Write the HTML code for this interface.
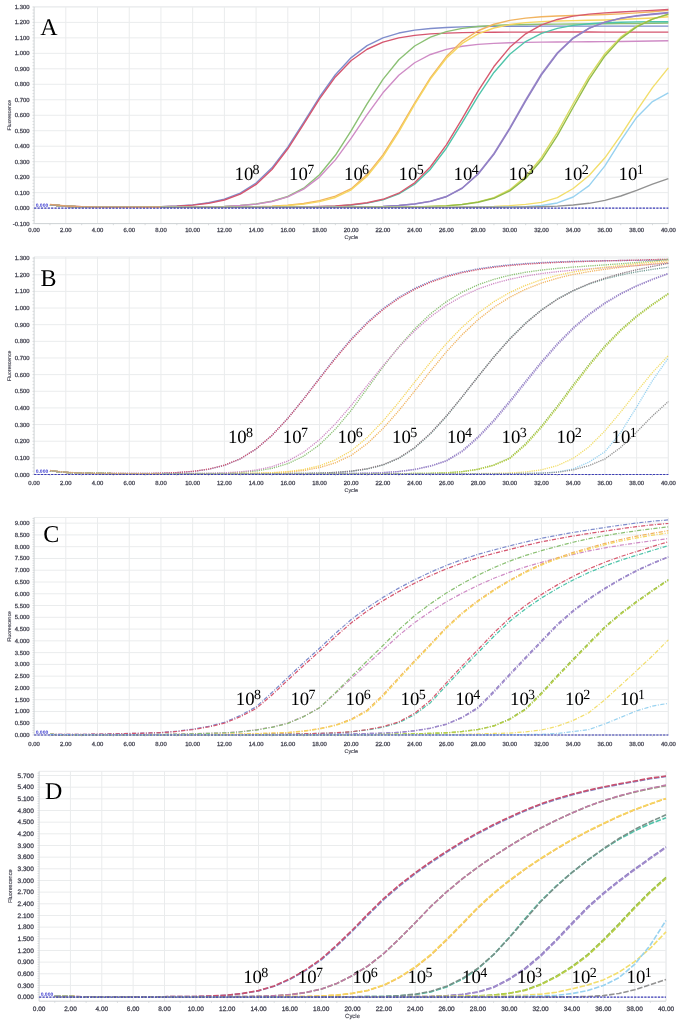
<!DOCTYPE html><html><head><meta charset="utf-8"><style>html,body{margin:0;padding:0;background:#fff;width:685px;height:1025px;overflow:hidden}svg{display:block;text-rendering:geometricPrecision;filter:blur(0.3px)}</style></head><body>
<svg width="685" height="1025" viewBox="0 0 685 1025">
<rect x="0" y="0" width="685" height="1025" fill="#fff"/>
<g id="A"><line x1="65.81" y1="6.90" x2="65.81" y2="223.60" stroke="#eaeced" stroke-width="1"/><line x1="97.53" y1="6.90" x2="97.53" y2="223.60" stroke="#eaeced" stroke-width="1"/><line x1="129.24" y1="6.90" x2="129.24" y2="223.60" stroke="#eaeced" stroke-width="1"/><line x1="160.95" y1="6.90" x2="160.95" y2="223.60" stroke="#eaeced" stroke-width="1"/><line x1="192.66" y1="6.90" x2="192.66" y2="223.60" stroke="#eaeced" stroke-width="1"/><line x1="224.38" y1="6.90" x2="224.38" y2="223.60" stroke="#eaeced" stroke-width="1"/><line x1="256.09" y1="6.90" x2="256.09" y2="223.60" stroke="#eaeced" stroke-width="1"/><line x1="287.80" y1="6.90" x2="287.80" y2="223.60" stroke="#eaeced" stroke-width="1"/><line x1="319.51" y1="6.90" x2="319.51" y2="223.60" stroke="#eaeced" stroke-width="1"/><line x1="351.23" y1="6.90" x2="351.23" y2="223.60" stroke="#eaeced" stroke-width="1"/><line x1="382.94" y1="6.90" x2="382.94" y2="223.60" stroke="#eaeced" stroke-width="1"/><line x1="414.65" y1="6.90" x2="414.65" y2="223.60" stroke="#eaeced" stroke-width="1"/><line x1="446.36" y1="6.90" x2="446.36" y2="223.60" stroke="#eaeced" stroke-width="1"/><line x1="478.08" y1="6.90" x2="478.08" y2="223.60" stroke="#eaeced" stroke-width="1"/><line x1="509.79" y1="6.90" x2="509.79" y2="223.60" stroke="#eaeced" stroke-width="1"/><line x1="541.50" y1="6.90" x2="541.50" y2="223.60" stroke="#eaeced" stroke-width="1"/><line x1="573.21" y1="6.90" x2="573.21" y2="223.60" stroke="#eaeced" stroke-width="1"/><line x1="604.93" y1="6.90" x2="604.93" y2="223.60" stroke="#eaeced" stroke-width="1"/><line x1="636.64" y1="6.90" x2="636.64" y2="223.60" stroke="#eaeced" stroke-width="1"/><line x1="668.35" y1="6.90" x2="668.35" y2="223.60" stroke="#eaeced" stroke-width="1"/><line x1="34.10" y1="223.60" x2="668.35" y2="223.60" stroke="#eaeced" stroke-width="1"/><line x1="34.10" y1="208.12" x2="668.35" y2="208.12" stroke="#eaeced" stroke-width="1"/><line x1="34.10" y1="192.64" x2="668.35" y2="192.64" stroke="#eaeced" stroke-width="1"/><line x1="34.10" y1="177.16" x2="668.35" y2="177.16" stroke="#eaeced" stroke-width="1"/><line x1="34.10" y1="161.69" x2="668.35" y2="161.69" stroke="#eaeced" stroke-width="1"/><line x1="34.10" y1="146.21" x2="668.35" y2="146.21" stroke="#eaeced" stroke-width="1"/><line x1="34.10" y1="130.73" x2="668.35" y2="130.73" stroke="#eaeced" stroke-width="1"/><line x1="34.10" y1="115.25" x2="668.35" y2="115.25" stroke="#eaeced" stroke-width="1"/><line x1="34.10" y1="99.77" x2="668.35" y2="99.77" stroke="#eaeced" stroke-width="1"/><line x1="34.10" y1="84.29" x2="668.35" y2="84.29" stroke="#eaeced" stroke-width="1"/><line x1="34.10" y1="68.81" x2="668.35" y2="68.81" stroke="#eaeced" stroke-width="1"/><line x1="34.10" y1="53.34" x2="668.35" y2="53.34" stroke="#eaeced" stroke-width="1"/><line x1="34.10" y1="37.86" x2="668.35" y2="37.86" stroke="#eaeced" stroke-width="1"/><line x1="34.10" y1="22.38" x2="668.35" y2="22.38" stroke="#eaeced" stroke-width="1"/><line x1="34.10" y1="6.90" x2="668.35" y2="6.90" stroke="#eaeced" stroke-width="1"/><line x1="34.10" y1="6.90" x2="668.35" y2="6.90" stroke="#eaeced" stroke-width="1"/><line x1="668.35" y1="6.90" x2="668.35" y2="223.60" stroke="#eaeced" stroke-width="1"/><line x1="34.10" y1="223.60" x2="668.35" y2="223.60" stroke="#cfd3d6" stroke-width="1"/><line x1="34.10" y1="6.90" x2="34.10" y2="223.60" stroke="#cfd3d6" stroke-width="1"/><line x1="32.50" y1="223.60" x2="34.10" y2="223.60" stroke="#cfd3d6" stroke-width="0.8"/><line x1="32.50" y1="220.50" x2="34.10" y2="220.50" stroke="#cfd3d6" stroke-width="0.8"/><line x1="32.50" y1="217.41" x2="34.10" y2="217.41" stroke="#cfd3d6" stroke-width="0.8"/><line x1="32.50" y1="214.31" x2="34.10" y2="214.31" stroke="#cfd3d6" stroke-width="0.8"/><line x1="32.50" y1="211.22" x2="34.10" y2="211.22" stroke="#cfd3d6" stroke-width="0.8"/><line x1="32.50" y1="208.12" x2="34.10" y2="208.12" stroke="#cfd3d6" stroke-width="0.8"/><line x1="32.50" y1="205.03" x2="34.10" y2="205.03" stroke="#cfd3d6" stroke-width="0.8"/><line x1="32.50" y1="201.93" x2="34.10" y2="201.93" stroke="#cfd3d6" stroke-width="0.8"/><line x1="32.50" y1="198.83" x2="34.10" y2="198.83" stroke="#cfd3d6" stroke-width="0.8"/><line x1="32.50" y1="195.74" x2="34.10" y2="195.74" stroke="#cfd3d6" stroke-width="0.8"/><line x1="32.50" y1="192.64" x2="34.10" y2="192.64" stroke="#cfd3d6" stroke-width="0.8"/><line x1="32.50" y1="189.55" x2="34.10" y2="189.55" stroke="#cfd3d6" stroke-width="0.8"/><line x1="32.50" y1="186.45" x2="34.10" y2="186.45" stroke="#cfd3d6" stroke-width="0.8"/><line x1="32.50" y1="183.36" x2="34.10" y2="183.36" stroke="#cfd3d6" stroke-width="0.8"/><line x1="32.50" y1="180.26" x2="34.10" y2="180.26" stroke="#cfd3d6" stroke-width="0.8"/><line x1="32.50" y1="177.16" x2="34.10" y2="177.16" stroke="#cfd3d6" stroke-width="0.8"/><line x1="32.50" y1="174.07" x2="34.10" y2="174.07" stroke="#cfd3d6" stroke-width="0.8"/><line x1="32.50" y1="170.97" x2="34.10" y2="170.97" stroke="#cfd3d6" stroke-width="0.8"/><line x1="32.50" y1="167.88" x2="34.10" y2="167.88" stroke="#cfd3d6" stroke-width="0.8"/><line x1="32.50" y1="164.78" x2="34.10" y2="164.78" stroke="#cfd3d6" stroke-width="0.8"/><line x1="32.50" y1="161.69" x2="34.10" y2="161.69" stroke="#cfd3d6" stroke-width="0.8"/><line x1="32.50" y1="158.59" x2="34.10" y2="158.59" stroke="#cfd3d6" stroke-width="0.8"/><line x1="32.50" y1="155.49" x2="34.10" y2="155.49" stroke="#cfd3d6" stroke-width="0.8"/><line x1="32.50" y1="152.40" x2="34.10" y2="152.40" stroke="#cfd3d6" stroke-width="0.8"/><line x1="32.50" y1="149.30" x2="34.10" y2="149.30" stroke="#cfd3d6" stroke-width="0.8"/><line x1="32.50" y1="146.21" x2="34.10" y2="146.21" stroke="#cfd3d6" stroke-width="0.8"/><line x1="32.50" y1="143.11" x2="34.10" y2="143.11" stroke="#cfd3d6" stroke-width="0.8"/><line x1="32.50" y1="140.02" x2="34.10" y2="140.02" stroke="#cfd3d6" stroke-width="0.8"/><line x1="32.50" y1="136.92" x2="34.10" y2="136.92" stroke="#cfd3d6" stroke-width="0.8"/><line x1="32.50" y1="133.82" x2="34.10" y2="133.82" stroke="#cfd3d6" stroke-width="0.8"/><line x1="32.50" y1="130.73" x2="34.10" y2="130.73" stroke="#cfd3d6" stroke-width="0.8"/><line x1="32.50" y1="127.63" x2="34.10" y2="127.63" stroke="#cfd3d6" stroke-width="0.8"/><line x1="32.50" y1="124.54" x2="34.10" y2="124.54" stroke="#cfd3d6" stroke-width="0.8"/><line x1="32.50" y1="121.44" x2="34.10" y2="121.44" stroke="#cfd3d6" stroke-width="0.8"/><line x1="32.50" y1="118.35" x2="34.10" y2="118.35" stroke="#cfd3d6" stroke-width="0.8"/><line x1="32.50" y1="115.25" x2="34.10" y2="115.25" stroke="#cfd3d6" stroke-width="0.8"/><line x1="32.50" y1="112.15" x2="34.10" y2="112.15" stroke="#cfd3d6" stroke-width="0.8"/><line x1="32.50" y1="109.06" x2="34.10" y2="109.06" stroke="#cfd3d6" stroke-width="0.8"/><line x1="32.50" y1="105.96" x2="34.10" y2="105.96" stroke="#cfd3d6" stroke-width="0.8"/><line x1="32.50" y1="102.87" x2="34.10" y2="102.87" stroke="#cfd3d6" stroke-width="0.8"/><line x1="32.50" y1="99.77" x2="34.10" y2="99.77" stroke="#cfd3d6" stroke-width="0.8"/><line x1="32.50" y1="96.68" x2="34.10" y2="96.68" stroke="#cfd3d6" stroke-width="0.8"/><line x1="32.50" y1="93.58" x2="34.10" y2="93.58" stroke="#cfd3d6" stroke-width="0.8"/><line x1="32.50" y1="90.48" x2="34.10" y2="90.48" stroke="#cfd3d6" stroke-width="0.8"/><line x1="32.50" y1="87.39" x2="34.10" y2="87.39" stroke="#cfd3d6" stroke-width="0.8"/><line x1="32.50" y1="84.29" x2="34.10" y2="84.29" stroke="#cfd3d6" stroke-width="0.8"/><line x1="32.50" y1="81.20" x2="34.10" y2="81.20" stroke="#cfd3d6" stroke-width="0.8"/><line x1="32.50" y1="78.10" x2="34.10" y2="78.10" stroke="#cfd3d6" stroke-width="0.8"/><line x1="32.50" y1="75.01" x2="34.10" y2="75.01" stroke="#cfd3d6" stroke-width="0.8"/><line x1="32.50" y1="71.91" x2="34.10" y2="71.91" stroke="#cfd3d6" stroke-width="0.8"/><line x1="32.50" y1="68.81" x2="34.10" y2="68.81" stroke="#cfd3d6" stroke-width="0.8"/><line x1="32.50" y1="65.72" x2="34.10" y2="65.72" stroke="#cfd3d6" stroke-width="0.8"/><line x1="32.50" y1="62.62" x2="34.10" y2="62.62" stroke="#cfd3d6" stroke-width="0.8"/><line x1="32.50" y1="59.53" x2="34.10" y2="59.53" stroke="#cfd3d6" stroke-width="0.8"/><line x1="32.50" y1="56.43" x2="34.10" y2="56.43" stroke="#cfd3d6" stroke-width="0.8"/><line x1="32.50" y1="53.34" x2="34.10" y2="53.34" stroke="#cfd3d6" stroke-width="0.8"/><line x1="32.50" y1="50.24" x2="34.10" y2="50.24" stroke="#cfd3d6" stroke-width="0.8"/><line x1="32.50" y1="47.14" x2="34.10" y2="47.14" stroke="#cfd3d6" stroke-width="0.8"/><line x1="32.50" y1="44.05" x2="34.10" y2="44.05" stroke="#cfd3d6" stroke-width="0.8"/><line x1="32.50" y1="40.95" x2="34.10" y2="40.95" stroke="#cfd3d6" stroke-width="0.8"/><line x1="32.50" y1="37.86" x2="34.10" y2="37.86" stroke="#cfd3d6" stroke-width="0.8"/><line x1="32.50" y1="34.76" x2="34.10" y2="34.76" stroke="#cfd3d6" stroke-width="0.8"/><line x1="32.50" y1="31.67" x2="34.10" y2="31.67" stroke="#cfd3d6" stroke-width="0.8"/><line x1="32.50" y1="28.57" x2="34.10" y2="28.57" stroke="#cfd3d6" stroke-width="0.8"/><line x1="32.50" y1="25.47" x2="34.10" y2="25.47" stroke="#cfd3d6" stroke-width="0.8"/><line x1="32.50" y1="22.38" x2="34.10" y2="22.38" stroke="#cfd3d6" stroke-width="0.8"/><line x1="32.50" y1="19.28" x2="34.10" y2="19.28" stroke="#cfd3d6" stroke-width="0.8"/><line x1="32.50" y1="16.19" x2="34.10" y2="16.19" stroke="#cfd3d6" stroke-width="0.8"/><line x1="32.50" y1="13.09" x2="34.10" y2="13.09" stroke="#cfd3d6" stroke-width="0.8"/><line x1="32.50" y1="10.00" x2="34.10" y2="10.00" stroke="#cfd3d6" stroke-width="0.8"/><line x1="32.50" y1="6.90" x2="34.10" y2="6.90" stroke="#cfd3d6" stroke-width="0.8"/><line x1="49.96" y1="223.60" x2="49.96" y2="225.20" stroke="#cfd3d6" stroke-width="0.8"/><line x1="81.67" y1="223.60" x2="81.67" y2="225.20" stroke="#cfd3d6" stroke-width="0.8"/><line x1="113.38" y1="223.60" x2="113.38" y2="225.20" stroke="#cfd3d6" stroke-width="0.8"/><line x1="145.09" y1="223.60" x2="145.09" y2="225.20" stroke="#cfd3d6" stroke-width="0.8"/><line x1="176.81" y1="223.60" x2="176.81" y2="225.20" stroke="#cfd3d6" stroke-width="0.8"/><line x1="208.52" y1="223.60" x2="208.52" y2="225.20" stroke="#cfd3d6" stroke-width="0.8"/><line x1="240.23" y1="223.60" x2="240.23" y2="225.20" stroke="#cfd3d6" stroke-width="0.8"/><line x1="271.94" y1="223.60" x2="271.94" y2="225.20" stroke="#cfd3d6" stroke-width="0.8"/><line x1="303.66" y1="223.60" x2="303.66" y2="225.20" stroke="#cfd3d6" stroke-width="0.8"/><line x1="335.37" y1="223.60" x2="335.37" y2="225.20" stroke="#cfd3d6" stroke-width="0.8"/><line x1="367.08" y1="223.60" x2="367.08" y2="225.20" stroke="#cfd3d6" stroke-width="0.8"/><line x1="398.79" y1="223.60" x2="398.79" y2="225.20" stroke="#cfd3d6" stroke-width="0.8"/><line x1="430.51" y1="223.60" x2="430.51" y2="225.20" stroke="#cfd3d6" stroke-width="0.8"/><line x1="462.22" y1="223.60" x2="462.22" y2="225.20" stroke="#cfd3d6" stroke-width="0.8"/><line x1="493.93" y1="223.60" x2="493.93" y2="225.20" stroke="#cfd3d6" stroke-width="0.8"/><line x1="525.64" y1="223.60" x2="525.64" y2="225.20" stroke="#cfd3d6" stroke-width="0.8"/><line x1="557.36" y1="223.60" x2="557.36" y2="225.20" stroke="#cfd3d6" stroke-width="0.8"/><line x1="589.07" y1="223.60" x2="589.07" y2="225.20" stroke="#cfd3d6" stroke-width="0.8"/><line x1="620.78" y1="223.60" x2="620.78" y2="225.20" stroke="#cfd3d6" stroke-width="0.8"/><line x1="652.49" y1="223.60" x2="652.49" y2="225.20" stroke="#cfd3d6" stroke-width="0.8"/><text x="29.50" y="225.60" text-anchor="end" font-family='"Liberation Sans", sans-serif' font-size="5.90" fill="#454552" stroke="#454552" stroke-width="0.28">-0.100</text><text x="29.50" y="210.12" text-anchor="end" font-family='"Liberation Sans", sans-serif' font-size="5.90" fill="#454552" stroke="#454552" stroke-width="0.28">0.000</text><text x="29.50" y="194.64" text-anchor="end" font-family='"Liberation Sans", sans-serif' font-size="5.90" fill="#454552" stroke="#454552" stroke-width="0.28">0.100</text><text x="29.50" y="179.16" text-anchor="end" font-family='"Liberation Sans", sans-serif' font-size="5.90" fill="#454552" stroke="#454552" stroke-width="0.28">0.200</text><text x="29.50" y="163.69" text-anchor="end" font-family='"Liberation Sans", sans-serif' font-size="5.90" fill="#454552" stroke="#454552" stroke-width="0.28">0.300</text><text x="29.50" y="148.21" text-anchor="end" font-family='"Liberation Sans", sans-serif' font-size="5.90" fill="#454552" stroke="#454552" stroke-width="0.28">0.400</text><text x="29.50" y="132.73" text-anchor="end" font-family='"Liberation Sans", sans-serif' font-size="5.90" fill="#454552" stroke="#454552" stroke-width="0.28">0.500</text><text x="29.50" y="117.25" text-anchor="end" font-family='"Liberation Sans", sans-serif' font-size="5.90" fill="#454552" stroke="#454552" stroke-width="0.28">0.600</text><text x="29.50" y="101.77" text-anchor="end" font-family='"Liberation Sans", sans-serif' font-size="5.90" fill="#454552" stroke="#454552" stroke-width="0.28">0.700</text><text x="29.50" y="86.29" text-anchor="end" font-family='"Liberation Sans", sans-serif' font-size="5.90" fill="#454552" stroke="#454552" stroke-width="0.28">0.800</text><text x="29.50" y="70.81" text-anchor="end" font-family='"Liberation Sans", sans-serif' font-size="5.90" fill="#454552" stroke="#454552" stroke-width="0.28">0.900</text><text x="29.50" y="55.34" text-anchor="end" font-family='"Liberation Sans", sans-serif' font-size="5.90" fill="#454552" stroke="#454552" stroke-width="0.28">1.000</text><text x="29.50" y="39.86" text-anchor="end" font-family='"Liberation Sans", sans-serif' font-size="5.90" fill="#454552" stroke="#454552" stroke-width="0.28">1.100</text><text x="29.50" y="24.38" text-anchor="end" font-family='"Liberation Sans", sans-serif' font-size="5.90" fill="#454552" stroke="#454552" stroke-width="0.28">1.200</text><text x="29.50" y="8.90" text-anchor="end" font-family='"Liberation Sans", sans-serif' font-size="5.90" fill="#454552" stroke="#454552" stroke-width="0.28">1.300</text><text x="34.10" y="232.30" text-anchor="middle" font-family='"Liberation Sans", sans-serif' font-size="5.90" fill="#454552" stroke="#454552" stroke-width="0.28">0.00</text><text x="65.81" y="232.30" text-anchor="middle" font-family='"Liberation Sans", sans-serif' font-size="5.90" fill="#454552" stroke="#454552" stroke-width="0.28">2.00</text><text x="97.53" y="232.30" text-anchor="middle" font-family='"Liberation Sans", sans-serif' font-size="5.90" fill="#454552" stroke="#454552" stroke-width="0.28">4.00</text><text x="129.24" y="232.30" text-anchor="middle" font-family='"Liberation Sans", sans-serif' font-size="5.90" fill="#454552" stroke="#454552" stroke-width="0.28">6.00</text><text x="160.95" y="232.30" text-anchor="middle" font-family='"Liberation Sans", sans-serif' font-size="5.90" fill="#454552" stroke="#454552" stroke-width="0.28">8.00</text><text x="192.66" y="232.30" text-anchor="middle" font-family='"Liberation Sans", sans-serif' font-size="5.90" fill="#454552" stroke="#454552" stroke-width="0.28">10.00</text><text x="224.38" y="232.30" text-anchor="middle" font-family='"Liberation Sans", sans-serif' font-size="5.90" fill="#454552" stroke="#454552" stroke-width="0.28">12.00</text><text x="256.09" y="232.30" text-anchor="middle" font-family='"Liberation Sans", sans-serif' font-size="5.90" fill="#454552" stroke="#454552" stroke-width="0.28">14.00</text><text x="287.80" y="232.30" text-anchor="middle" font-family='"Liberation Sans", sans-serif' font-size="5.90" fill="#454552" stroke="#454552" stroke-width="0.28">16.00</text><text x="319.51" y="232.30" text-anchor="middle" font-family='"Liberation Sans", sans-serif' font-size="5.90" fill="#454552" stroke="#454552" stroke-width="0.28">18.00</text><text x="351.23" y="232.30" text-anchor="middle" font-family='"Liberation Sans", sans-serif' font-size="5.90" fill="#454552" stroke="#454552" stroke-width="0.28">20.00</text><text x="382.94" y="232.30" text-anchor="middle" font-family='"Liberation Sans", sans-serif' font-size="5.90" fill="#454552" stroke="#454552" stroke-width="0.28">22.00</text><text x="414.65" y="232.30" text-anchor="middle" font-family='"Liberation Sans", sans-serif' font-size="5.90" fill="#454552" stroke="#454552" stroke-width="0.28">24.00</text><text x="446.36" y="232.30" text-anchor="middle" font-family='"Liberation Sans", sans-serif' font-size="5.90" fill="#454552" stroke="#454552" stroke-width="0.28">26.00</text><text x="478.08" y="232.30" text-anchor="middle" font-family='"Liberation Sans", sans-serif' font-size="5.90" fill="#454552" stroke="#454552" stroke-width="0.28">28.00</text><text x="509.79" y="232.30" text-anchor="middle" font-family='"Liberation Sans", sans-serif' font-size="5.90" fill="#454552" stroke="#454552" stroke-width="0.28">30.00</text><text x="541.50" y="232.30" text-anchor="middle" font-family='"Liberation Sans", sans-serif' font-size="5.90" fill="#454552" stroke="#454552" stroke-width="0.28">32.00</text><text x="573.21" y="232.30" text-anchor="middle" font-family='"Liberation Sans", sans-serif' font-size="5.90" fill="#454552" stroke="#454552" stroke-width="0.28">34.00</text><text x="604.93" y="232.30" text-anchor="middle" font-family='"Liberation Sans", sans-serif' font-size="5.90" fill="#454552" stroke="#454552" stroke-width="0.28">36.00</text><text x="636.64" y="232.30" text-anchor="middle" font-family='"Liberation Sans", sans-serif' font-size="5.90" fill="#454552" stroke="#454552" stroke-width="0.28">38.00</text><text x="668.35" y="232.30" text-anchor="middle" font-family='"Liberation Sans", sans-serif' font-size="5.90" fill="#454552" stroke="#454552" stroke-width="0.28">40.00</text><text x="351.23" y="239.00" text-anchor="middle" font-family='"Liberation Sans", sans-serif' font-size="5.40" fill="#454552" stroke="#454552" stroke-width="0.15">Cycle</text><text x="0" y="0" transform="translate(10.50,115.10) rotate(-90)" text-anchor="middle" font-family='"Liberation Sans", sans-serif' font-size="5.10" fill="#454552" stroke="#454552" stroke-width="0.15">Fluorescence</text><polyline points="49.96,204.71 65.81,206.18 81.67,206.81 97.53,207.07 113.38,207.13 129.24,207.08 145.09,206.92 160.95,206.59 176.81,205.97 192.66,204.83 208.52,202.79 224.38,199.20 240.23,193.04 256.09,183.01 271.94,167.82 287.80,147.09 303.66,122.36 319.51,97.03 335.37,74.75 351.23,57.58 367.08,45.62 382.94,37.86 398.79,33.06 414.65,30.17 430.51,28.47 446.36,27.47 462.22,26.89 478.08,26.55 493.93,26.36 509.79,26.25 525.64,26.18 541.50,26.14 557.36,26.12 573.21,26.11 589.07,26.10 604.93,26.10 620.78,26.10 636.64,26.10 652.49,26.09 668.35,26.09" fill="none" stroke="#7f8dcc" stroke-width="1.4" stroke-linejoin="round"/><polyline points="49.96,204.71 65.81,206.19 81.67,206.82 97.53,207.08 113.38,207.16 129.24,207.13 145.09,207.00 160.95,206.72 176.81,206.18 192.66,205.17 208.52,203.32 224.38,199.98 240.23,194.14 256.09,184.41 271.94,169.45 287.80,148.78 303.66,124.02 319.51,98.81 335.37,76.96 351.23,60.48 367.08,49.26 382.94,42.17 398.79,37.88 414.65,35.36 430.51,33.91 446.36,33.08 462.22,32.61 478.08,32.35 493.93,32.21 509.79,32.13 525.64,32.09 541.50,32.08 557.36,32.07 573.21,32.07 589.07,32.07 604.93,32.08 620.78,32.08 636.64,32.08 652.49,32.09 668.35,32.09" fill="none" stroke="#d5566f" stroke-width="1.4" stroke-linejoin="round"/><polyline points="49.96,204.72 65.81,206.20 81.67,206.85 97.53,207.13 113.38,207.24 129.24,207.28 145.09,207.29 160.95,207.26 176.81,207.20 192.66,207.07 208.52,206.83 224.38,206.38 240.23,205.54 256.09,204.01 271.94,201.27 287.80,196.49 303.66,188.22 319.51,174.74 335.37,155.30 351.23,130.67 367.08,103.96 382.94,79.35 398.79,59.81 414.65,46.01 430.51,37.07 446.36,31.58 462.22,28.34 478.08,26.46 493.93,25.40 509.79,24.80 525.64,24.46 541.50,24.26 557.36,24.14 573.21,24.03 589.07,23.93 604.93,23.81 620.78,23.67 636.64,23.49 652.49,23.27 668.35,23.00" fill="none" stroke="#8bc074" stroke-width="1.4" stroke-linejoin="round"/><polyline points="49.96,204.72 65.81,206.20 81.67,206.85 97.53,207.12 113.38,207.24 129.24,207.28 145.09,207.28 160.95,207.26 176.81,207.19 192.66,207.06 208.52,206.82 224.38,206.38 240.23,205.57 256.09,204.10 271.94,201.46 287.80,196.84 303.66,189.12 319.51,177.08 335.37,159.89 351.23,138.20 367.08,114.67 382.94,92.84 398.79,75.31 414.65,62.75 430.51,54.47 446.36,49.32 462.22,46.23 478.08,44.41 493.93,43.36 509.79,42.74 525.64,42.38 541.50,42.16 557.36,42.01 573.21,41.88 589.07,41.76 604.93,41.62 620.78,41.46 636.64,41.28 652.49,41.06 668.35,40.81" fill="none" stroke="#cf8cc6" stroke-width="1.4" stroke-linejoin="round"/><polyline points="49.96,204.72 65.81,206.20 81.67,206.85 97.53,207.13 113.38,207.25 129.24,207.30 145.09,207.32 160.95,207.32 176.81,207.31 192.66,207.28 208.52,207.24 224.38,207.14 240.23,206.98 256.09,206.68 271.94,206.14 287.80,205.17 303.66,203.48 319.51,200.68 335.37,196.17 351.23,188.73 367.08,174.63 382.94,154.86 398.79,130.19 414.65,103.18 430.51,77.62 446.36,56.55 462.22,41.10 478.08,30.74 493.93,24.23 509.79,20.34 525.64,18.09 541.50,16.81 557.36,16.06 573.21,15.54 589.07,15.08 604.93,14.53 620.78,13.83 636.64,12.90 652.49,11.69 668.35,10.25" fill="none" stroke="#f1b460" stroke-width="1.4" stroke-linejoin="round"/><polyline points="49.96,204.72 65.81,206.20 81.67,206.85 97.53,207.13 113.38,207.25 129.24,207.30 145.09,207.32 160.95,207.33 176.81,207.32 192.66,207.30 208.52,207.27 224.38,207.20 240.23,207.07 256.09,206.83 271.94,206.38 287.80,205.56 303.66,204.09 319.51,201.58 335.37,197.48 351.23,189.84 367.08,176.28 382.94,156.68 398.79,131.80 414.65,104.48 430.51,78.88 446.36,58.22 462.22,43.46 478.08,33.84 493.93,27.97 509.79,24.56 525.64,22.65 541.50,21.60 557.36,21.02 573.21,20.65 589.07,20.32 604.93,19.96 620.78,19.47 636.64,18.81 652.49,17.94 668.35,16.82" fill="none" stroke="#f6d660" stroke-width="1.4" stroke-linejoin="round"/><polyline points="49.96,204.72 65.81,206.20 81.67,206.85 97.53,207.13 113.38,207.25 129.24,207.31 145.09,207.33 160.95,207.34 176.81,207.34 192.66,207.34 208.52,207.34 224.38,207.33 240.23,207.32 256.09,207.29 271.94,207.24 287.80,207.15 303.66,206.99 319.51,206.68 335.37,206.11 351.23,205.07 367.08,203.17 382.94,199.80 398.79,193.96 414.65,184.26 430.51,169.19 446.36,148.22 462.22,122.63 478.08,96.04 493.93,72.44 509.79,54.19 525.64,41.52 541.50,33.35 557.36,28.35 573.21,25.39 589.07,23.68 604.93,22.72 620.78,22.19 636.64,21.91 652.49,21.77 668.35,21.71" fill="none" stroke="#4fc4aa" stroke-width="1.4" stroke-linejoin="round"/><polyline points="49.96,204.72 65.81,206.20 81.67,206.85 97.53,207.13 113.38,207.25 129.24,207.31 145.09,207.33 160.95,207.34 176.81,207.34 192.66,207.34 208.52,207.34 224.38,207.33 240.23,207.31 256.09,207.28 271.94,207.22 287.80,207.11 303.66,206.92 319.51,206.56 335.37,205.91 351.23,204.74 367.08,202.71 382.94,199.28 398.79,193.22 414.65,182.80 430.51,166.73 446.36,144.87 462.22,118.53 478.08,91.12 493.93,66.57 509.79,47.34 525.64,33.79 541.50,24.95 557.36,19.46 573.21,16.14 589.07,14.12 604.93,12.85 620.78,11.94 636.64,11.17 652.49,10.40 668.35,9.52" fill="none" stroke="#d75a6f" stroke-width="1.4" stroke-linejoin="round"/><polyline points="49.96,204.72 65.81,206.20 81.67,206.85 97.53,207.13 113.38,207.25 129.24,207.31 145.09,207.33 160.95,207.34 176.81,207.34 192.66,207.35 208.52,207.35 224.38,207.35 240.23,207.34 256.09,207.34 271.94,207.33 287.80,207.32 303.66,207.30 319.51,207.26 335.37,207.19 351.23,207.05 367.08,206.80 382.94,206.33 398.79,205.46 414.65,203.91 430.51,201.28 446.36,196.54 462.22,187.96 478.08,173.73 493.93,153.47 509.79,127.83 525.64,99.82 541.50,73.73 557.36,52.78 573.21,37.85 589.07,28.11 604.93,22.06 620.78,18.38 636.64,16.07 652.49,14.47 668.35,13.14" fill="none" stroke="#a28ccc" stroke-width="1.4" stroke-linejoin="round"/><polyline points="49.96,204.72 65.81,206.20 81.67,206.85 97.53,207.13 113.38,207.25 129.24,207.31 145.09,207.33 160.95,207.34 176.81,207.34 192.66,207.35 208.52,207.35 224.38,207.35 240.23,207.34 256.09,207.34 271.94,207.33 287.80,207.32 303.66,207.30 319.51,207.26 335.37,207.19 351.23,207.05 367.08,206.80 382.94,206.34 398.79,205.48 414.65,203.95 430.51,201.37 446.36,196.74 462.22,188.32 478.08,174.30 493.93,154.32 509.79,128.94 525.64,101.03 541.50,74.81 557.36,53.59 573.21,38.37 589.07,28.35 604.93,22.09 620.78,18.24 636.64,15.77 652.49,14.00 668.35,12.48" fill="none" stroke="#9080c4" stroke-width="1.4" stroke-linejoin="round"/><polyline points="49.96,204.72 65.81,206.20 81.67,206.85 97.53,207.13 113.38,207.25 129.24,207.31 145.09,207.33 160.95,207.34 176.81,207.34 192.66,207.35 208.52,207.35 224.38,207.35 240.23,207.35 256.09,207.35 271.94,207.35 287.80,207.34 303.66,207.34 319.51,207.34 335.37,207.33 351.23,207.31 367.08,207.28 382.94,207.22 398.79,207.10 414.65,206.89 430.51,206.49 446.36,205.75 462.22,204.37 478.08,201.92 493.93,197.64 509.79,189.75 525.64,176.63 541.50,157.43 557.36,132.26 573.21,103.74 589.07,76.29 604.93,53.66 620.78,37.20 636.64,26.19 652.49,19.09 668.35,14.46" fill="none" stroke="#d9db62" stroke-width="1.4" stroke-linejoin="round"/><polyline points="49.96,204.72 65.81,206.20 81.67,206.85 97.53,207.13 113.38,207.25 129.24,207.31 145.09,207.33 160.95,207.34 176.81,207.34 192.66,207.35 208.52,207.35 224.38,207.35 240.23,207.35 256.09,207.35 271.94,207.35 287.80,207.34 303.66,207.34 319.51,207.34 335.37,207.33 351.23,207.31 367.08,207.28 382.94,207.22 398.79,207.12 414.65,206.92 430.51,206.54 446.36,205.84 462.22,204.55 478.08,202.25 493.93,198.26 509.79,190.90 525.64,178.45 541.50,160.05 557.36,135.58 573.21,107.28 589.07,79.42 604.93,55.96 620.78,38.60 636.64,26.83 652.49,19.19 668.35,14.14" fill="none" stroke="#93bc48" stroke-width="1.4" stroke-linejoin="round"/><polyline points="49.96,204.72 65.81,206.20 81.67,206.85 97.53,207.13 113.38,207.25 129.24,207.31 145.09,207.33 160.95,207.34 176.81,207.34 192.66,207.35 208.52,207.35 224.38,207.35 240.23,207.35 256.09,207.35 271.94,207.35 287.80,207.35 303.66,207.35 319.51,207.35 335.37,207.35 351.23,207.34 367.08,207.34 382.94,207.34 398.79,207.33 414.65,207.31 430.51,207.27 446.36,207.21 462.22,207.08 478.08,206.85 493.93,206.43 509.79,205.64 525.64,204.34 541.50,202.37 557.36,197.60 573.21,188.50 589.07,175.54 604.93,157.79 620.78,135.45 636.64,110.89 652.49,87.57 668.35,67.85" fill="none" stroke="#f2de6c" stroke-width="1.4" stroke-linejoin="round"/><polyline points="49.96,204.72 65.81,206.20 81.67,206.85 97.53,207.13 113.38,207.25 129.24,207.31 145.09,207.33 160.95,207.34 176.81,207.34 192.66,207.35 208.52,207.35 224.38,207.35 240.23,207.35 256.09,207.35 271.94,207.35 287.80,207.35 303.66,207.35 319.51,207.35 335.37,207.35 351.23,207.35 367.08,207.35 382.94,207.35 398.79,207.35 414.65,207.35 430.51,207.34 446.36,207.34 462.22,207.33 478.08,207.30 493.93,207.23 509.79,207.05 525.64,206.61 541.50,205.54 557.36,202.95 573.21,196.98 589.07,185.59 604.93,165.92 620.78,140.61 636.64,117.39 652.49,101.61 668.35,92.99" fill="none" stroke="#98d2f0" stroke-width="1.4" stroke-linejoin="round"/><polyline points="49.96,204.72 65.81,206.20 81.67,206.85 97.53,207.13 113.38,207.25 129.24,207.31 145.09,207.33 160.95,207.34 176.81,207.34 192.66,207.35 208.52,207.35 224.38,207.35 240.23,207.35 256.09,207.35 271.94,207.35 287.80,207.35 303.66,207.35 319.51,207.35 335.37,207.35 351.23,207.35 367.08,207.35 382.94,207.35 398.79,207.35 414.65,207.34 430.51,207.34 446.36,207.33 462.22,207.32 478.08,207.30 493.93,207.25 509.79,207.17 525.64,207.01 541.50,206.70 557.36,206.12 573.21,205.05 589.07,203.32 604.93,200.38 620.78,195.98 636.64,190.32 652.49,184.21 668.35,178.71" fill="none" stroke="#929292" stroke-width="1.4" stroke-linejoin="round"/><polyline points="49.96,204.38 65.81,206.01 81.67,206.72 97.53,207.03 113.38,207.17 129.24,207.23 145.09,207.25 160.95,207.26" fill="none" stroke="#dca070" stroke-width="1.3" stroke-linejoin="round"/><line x1="34.10" y1="208.12" x2="668.35" y2="208.12" stroke="#3a3ab8" stroke-width="1.1" stroke-dasharray="2.2 1.2"/><text x="35.70" y="206.62" font-family='"Liberation Sans", sans-serif' font-size="5.0" font-weight="bold" fill="#3a3ad0">0.000</text><text x="40.20" y="35.20" font-family='"Liberation Serif", serif' font-size="24" fill="#000">A</text><text x="234.50" y="179.90" font-family='"Liberation Serif", serif' font-size="18.8" fill="#000">10</text><text x="252.60" y="174.00" font-family='"Liberation Serif", serif' font-size="14" fill="#000">8</text><text x="289.10" y="179.90" font-family='"Liberation Serif", serif' font-size="18.8" fill="#000">10</text><text x="307.20" y="174.00" font-family='"Liberation Serif", serif' font-size="14" fill="#000">7</text><text x="344.00" y="179.90" font-family='"Liberation Serif", serif' font-size="18.8" fill="#000">10</text><text x="362.10" y="174.00" font-family='"Liberation Serif", serif' font-size="14" fill="#000">6</text><text x="398.60" y="179.90" font-family='"Liberation Serif", serif' font-size="18.8" fill="#000">10</text><text x="416.70" y="174.00" font-family='"Liberation Serif", serif' font-size="14" fill="#000">5</text><text x="453.60" y="179.90" font-family='"Liberation Serif", serif' font-size="18.8" fill="#000">10</text><text x="471.70" y="174.00" font-family='"Liberation Serif", serif' font-size="14" fill="#000">4</text><text x="508.60" y="179.90" font-family='"Liberation Serif", serif' font-size="18.8" fill="#000">10</text><text x="526.70" y="174.00" font-family='"Liberation Serif", serif' font-size="14" fill="#000">3</text><text x="563.60" y="179.90" font-family='"Liberation Serif", serif' font-size="18.8" fill="#000">10</text><text x="581.70" y="174.00" font-family='"Liberation Serif", serif' font-size="14" fill="#000">2</text><text x="618.60" y="179.90" font-family='"Liberation Serif", serif' font-size="18.8" fill="#000">10</text><text x="636.70" y="174.00" font-family='"Liberation Serif", serif' font-size="14" fill="#000">1</text></g>
<g id="B"><line x1="65.81" y1="256.90" x2="65.81" y2="474.50" stroke="#eaeced" stroke-width="1"/><line x1="97.53" y1="256.90" x2="97.53" y2="474.50" stroke="#eaeced" stroke-width="1"/><line x1="129.24" y1="256.90" x2="129.24" y2="474.50" stroke="#eaeced" stroke-width="1"/><line x1="160.95" y1="256.90" x2="160.95" y2="474.50" stroke="#eaeced" stroke-width="1"/><line x1="192.66" y1="256.90" x2="192.66" y2="474.50" stroke="#eaeced" stroke-width="1"/><line x1="224.38" y1="256.90" x2="224.38" y2="474.50" stroke="#eaeced" stroke-width="1"/><line x1="256.09" y1="256.90" x2="256.09" y2="474.50" stroke="#eaeced" stroke-width="1"/><line x1="287.80" y1="256.90" x2="287.80" y2="474.50" stroke="#eaeced" stroke-width="1"/><line x1="319.51" y1="256.90" x2="319.51" y2="474.50" stroke="#eaeced" stroke-width="1"/><line x1="351.23" y1="256.90" x2="351.23" y2="474.50" stroke="#eaeced" stroke-width="1"/><line x1="382.94" y1="256.90" x2="382.94" y2="474.50" stroke="#eaeced" stroke-width="1"/><line x1="414.65" y1="256.90" x2="414.65" y2="474.50" stroke="#eaeced" stroke-width="1"/><line x1="446.36" y1="256.90" x2="446.36" y2="474.50" stroke="#eaeced" stroke-width="1"/><line x1="478.08" y1="256.90" x2="478.08" y2="474.50" stroke="#eaeced" stroke-width="1"/><line x1="509.79" y1="256.90" x2="509.79" y2="474.50" stroke="#eaeced" stroke-width="1"/><line x1="541.50" y1="256.90" x2="541.50" y2="474.50" stroke="#eaeced" stroke-width="1"/><line x1="573.21" y1="256.90" x2="573.21" y2="474.50" stroke="#eaeced" stroke-width="1"/><line x1="604.93" y1="256.90" x2="604.93" y2="474.50" stroke="#eaeced" stroke-width="1"/><line x1="636.64" y1="256.90" x2="636.64" y2="474.50" stroke="#eaeced" stroke-width="1"/><line x1="668.35" y1="256.90" x2="668.35" y2="474.50" stroke="#eaeced" stroke-width="1"/><line x1="34.10" y1="474.50" x2="668.35" y2="474.50" stroke="#eaeced" stroke-width="1"/><line x1="34.10" y1="457.85" x2="668.35" y2="457.85" stroke="#eaeced" stroke-width="1"/><line x1="34.10" y1="441.21" x2="668.35" y2="441.21" stroke="#eaeced" stroke-width="1"/><line x1="34.10" y1="424.56" x2="668.35" y2="424.56" stroke="#eaeced" stroke-width="1"/><line x1="34.10" y1="407.92" x2="668.35" y2="407.92" stroke="#eaeced" stroke-width="1"/><line x1="34.10" y1="391.27" x2="668.35" y2="391.27" stroke="#eaeced" stroke-width="1"/><line x1="34.10" y1="374.62" x2="668.35" y2="374.62" stroke="#eaeced" stroke-width="1"/><line x1="34.10" y1="357.98" x2="668.35" y2="357.98" stroke="#eaeced" stroke-width="1"/><line x1="34.10" y1="341.33" x2="668.35" y2="341.33" stroke="#eaeced" stroke-width="1"/><line x1="34.10" y1="324.68" x2="668.35" y2="324.68" stroke="#eaeced" stroke-width="1"/><line x1="34.10" y1="308.04" x2="668.35" y2="308.04" stroke="#eaeced" stroke-width="1"/><line x1="34.10" y1="291.39" x2="668.35" y2="291.39" stroke="#eaeced" stroke-width="1"/><line x1="34.10" y1="274.75" x2="668.35" y2="274.75" stroke="#eaeced" stroke-width="1"/><line x1="34.10" y1="258.10" x2="668.35" y2="258.10" stroke="#eaeced" stroke-width="1"/><line x1="34.10" y1="256.90" x2="668.35" y2="256.90" stroke="#eaeced" stroke-width="1"/><line x1="668.35" y1="256.90" x2="668.35" y2="474.50" stroke="#eaeced" stroke-width="1"/><line x1="34.10" y1="474.50" x2="668.35" y2="474.50" stroke="#cfd3d6" stroke-width="1"/><line x1="34.10" y1="256.90" x2="34.10" y2="474.50" stroke="#cfd3d6" stroke-width="1"/><line x1="32.50" y1="474.50" x2="34.10" y2="474.50" stroke="#cfd3d6" stroke-width="0.8"/><line x1="32.50" y1="471.17" x2="34.10" y2="471.17" stroke="#cfd3d6" stroke-width="0.8"/><line x1="32.50" y1="467.84" x2="34.10" y2="467.84" stroke="#cfd3d6" stroke-width="0.8"/><line x1="32.50" y1="464.51" x2="34.10" y2="464.51" stroke="#cfd3d6" stroke-width="0.8"/><line x1="32.50" y1="461.18" x2="34.10" y2="461.18" stroke="#cfd3d6" stroke-width="0.8"/><line x1="32.50" y1="457.85" x2="34.10" y2="457.85" stroke="#cfd3d6" stroke-width="0.8"/><line x1="32.50" y1="454.52" x2="34.10" y2="454.52" stroke="#cfd3d6" stroke-width="0.8"/><line x1="32.50" y1="451.20" x2="34.10" y2="451.20" stroke="#cfd3d6" stroke-width="0.8"/><line x1="32.50" y1="447.87" x2="34.10" y2="447.87" stroke="#cfd3d6" stroke-width="0.8"/><line x1="32.50" y1="444.54" x2="34.10" y2="444.54" stroke="#cfd3d6" stroke-width="0.8"/><line x1="32.50" y1="441.21" x2="34.10" y2="441.21" stroke="#cfd3d6" stroke-width="0.8"/><line x1="32.50" y1="437.88" x2="34.10" y2="437.88" stroke="#cfd3d6" stroke-width="0.8"/><line x1="32.50" y1="434.55" x2="34.10" y2="434.55" stroke="#cfd3d6" stroke-width="0.8"/><line x1="32.50" y1="431.22" x2="34.10" y2="431.22" stroke="#cfd3d6" stroke-width="0.8"/><line x1="32.50" y1="427.89" x2="34.10" y2="427.89" stroke="#cfd3d6" stroke-width="0.8"/><line x1="32.50" y1="424.56" x2="34.10" y2="424.56" stroke="#cfd3d6" stroke-width="0.8"/><line x1="32.50" y1="421.23" x2="34.10" y2="421.23" stroke="#cfd3d6" stroke-width="0.8"/><line x1="32.50" y1="417.90" x2="34.10" y2="417.90" stroke="#cfd3d6" stroke-width="0.8"/><line x1="32.50" y1="414.57" x2="34.10" y2="414.57" stroke="#cfd3d6" stroke-width="0.8"/><line x1="32.50" y1="411.24" x2="34.10" y2="411.24" stroke="#cfd3d6" stroke-width="0.8"/><line x1="32.50" y1="407.92" x2="34.10" y2="407.92" stroke="#cfd3d6" stroke-width="0.8"/><line x1="32.50" y1="404.59" x2="34.10" y2="404.59" stroke="#cfd3d6" stroke-width="0.8"/><line x1="32.50" y1="401.26" x2="34.10" y2="401.26" stroke="#cfd3d6" stroke-width="0.8"/><line x1="32.50" y1="397.93" x2="34.10" y2="397.93" stroke="#cfd3d6" stroke-width="0.8"/><line x1="32.50" y1="394.60" x2="34.10" y2="394.60" stroke="#cfd3d6" stroke-width="0.8"/><line x1="32.50" y1="391.27" x2="34.10" y2="391.27" stroke="#cfd3d6" stroke-width="0.8"/><line x1="32.50" y1="387.94" x2="34.10" y2="387.94" stroke="#cfd3d6" stroke-width="0.8"/><line x1="32.50" y1="384.61" x2="34.10" y2="384.61" stroke="#cfd3d6" stroke-width="0.8"/><line x1="32.50" y1="381.28" x2="34.10" y2="381.28" stroke="#cfd3d6" stroke-width="0.8"/><line x1="32.50" y1="377.95" x2="34.10" y2="377.95" stroke="#cfd3d6" stroke-width="0.8"/><line x1="32.50" y1="374.62" x2="34.10" y2="374.62" stroke="#cfd3d6" stroke-width="0.8"/><line x1="32.50" y1="371.29" x2="34.10" y2="371.29" stroke="#cfd3d6" stroke-width="0.8"/><line x1="32.50" y1="367.96" x2="34.10" y2="367.96" stroke="#cfd3d6" stroke-width="0.8"/><line x1="32.50" y1="364.64" x2="34.10" y2="364.64" stroke="#cfd3d6" stroke-width="0.8"/><line x1="32.50" y1="361.31" x2="34.10" y2="361.31" stroke="#cfd3d6" stroke-width="0.8"/><line x1="32.50" y1="357.98" x2="34.10" y2="357.98" stroke="#cfd3d6" stroke-width="0.8"/><line x1="32.50" y1="354.65" x2="34.10" y2="354.65" stroke="#cfd3d6" stroke-width="0.8"/><line x1="32.50" y1="351.32" x2="34.10" y2="351.32" stroke="#cfd3d6" stroke-width="0.8"/><line x1="32.50" y1="347.99" x2="34.10" y2="347.99" stroke="#cfd3d6" stroke-width="0.8"/><line x1="32.50" y1="344.66" x2="34.10" y2="344.66" stroke="#cfd3d6" stroke-width="0.8"/><line x1="32.50" y1="341.33" x2="34.10" y2="341.33" stroke="#cfd3d6" stroke-width="0.8"/><line x1="32.50" y1="338.00" x2="34.10" y2="338.00" stroke="#cfd3d6" stroke-width="0.8"/><line x1="32.50" y1="334.67" x2="34.10" y2="334.67" stroke="#cfd3d6" stroke-width="0.8"/><line x1="32.50" y1="331.34" x2="34.10" y2="331.34" stroke="#cfd3d6" stroke-width="0.8"/><line x1="32.50" y1="328.01" x2="34.10" y2="328.01" stroke="#cfd3d6" stroke-width="0.8"/><line x1="32.50" y1="324.68" x2="34.10" y2="324.68" stroke="#cfd3d6" stroke-width="0.8"/><line x1="32.50" y1="321.36" x2="34.10" y2="321.36" stroke="#cfd3d6" stroke-width="0.8"/><line x1="32.50" y1="318.03" x2="34.10" y2="318.03" stroke="#cfd3d6" stroke-width="0.8"/><line x1="32.50" y1="314.70" x2="34.10" y2="314.70" stroke="#cfd3d6" stroke-width="0.8"/><line x1="32.50" y1="311.37" x2="34.10" y2="311.37" stroke="#cfd3d6" stroke-width="0.8"/><line x1="32.50" y1="308.04" x2="34.10" y2="308.04" stroke="#cfd3d6" stroke-width="0.8"/><line x1="32.50" y1="304.71" x2="34.10" y2="304.71" stroke="#cfd3d6" stroke-width="0.8"/><line x1="32.50" y1="301.38" x2="34.10" y2="301.38" stroke="#cfd3d6" stroke-width="0.8"/><line x1="32.50" y1="298.05" x2="34.10" y2="298.05" stroke="#cfd3d6" stroke-width="0.8"/><line x1="32.50" y1="294.72" x2="34.10" y2="294.72" stroke="#cfd3d6" stroke-width="0.8"/><line x1="32.50" y1="291.39" x2="34.10" y2="291.39" stroke="#cfd3d6" stroke-width="0.8"/><line x1="32.50" y1="288.06" x2="34.10" y2="288.06" stroke="#cfd3d6" stroke-width="0.8"/><line x1="32.50" y1="284.73" x2="34.10" y2="284.73" stroke="#cfd3d6" stroke-width="0.8"/><line x1="32.50" y1="281.40" x2="34.10" y2="281.40" stroke="#cfd3d6" stroke-width="0.8"/><line x1="32.50" y1="278.08" x2="34.10" y2="278.08" stroke="#cfd3d6" stroke-width="0.8"/><line x1="32.50" y1="274.75" x2="34.10" y2="274.75" stroke="#cfd3d6" stroke-width="0.8"/><line x1="32.50" y1="271.42" x2="34.10" y2="271.42" stroke="#cfd3d6" stroke-width="0.8"/><line x1="32.50" y1="268.09" x2="34.10" y2="268.09" stroke="#cfd3d6" stroke-width="0.8"/><line x1="32.50" y1="264.76" x2="34.10" y2="264.76" stroke="#cfd3d6" stroke-width="0.8"/><line x1="32.50" y1="261.43" x2="34.10" y2="261.43" stroke="#cfd3d6" stroke-width="0.8"/><line x1="32.50" y1="258.10" x2="34.10" y2="258.10" stroke="#cfd3d6" stroke-width="0.8"/><line x1="49.96" y1="474.50" x2="49.96" y2="476.10" stroke="#cfd3d6" stroke-width="0.8"/><line x1="81.67" y1="474.50" x2="81.67" y2="476.10" stroke="#cfd3d6" stroke-width="0.8"/><line x1="113.38" y1="474.50" x2="113.38" y2="476.10" stroke="#cfd3d6" stroke-width="0.8"/><line x1="145.09" y1="474.50" x2="145.09" y2="476.10" stroke="#cfd3d6" stroke-width="0.8"/><line x1="176.81" y1="474.50" x2="176.81" y2="476.10" stroke="#cfd3d6" stroke-width="0.8"/><line x1="208.52" y1="474.50" x2="208.52" y2="476.10" stroke="#cfd3d6" stroke-width="0.8"/><line x1="240.23" y1="474.50" x2="240.23" y2="476.10" stroke="#cfd3d6" stroke-width="0.8"/><line x1="271.94" y1="474.50" x2="271.94" y2="476.10" stroke="#cfd3d6" stroke-width="0.8"/><line x1="303.66" y1="474.50" x2="303.66" y2="476.10" stroke="#cfd3d6" stroke-width="0.8"/><line x1="335.37" y1="474.50" x2="335.37" y2="476.10" stroke="#cfd3d6" stroke-width="0.8"/><line x1="367.08" y1="474.50" x2="367.08" y2="476.10" stroke="#cfd3d6" stroke-width="0.8"/><line x1="398.79" y1="474.50" x2="398.79" y2="476.10" stroke="#cfd3d6" stroke-width="0.8"/><line x1="430.51" y1="474.50" x2="430.51" y2="476.10" stroke="#cfd3d6" stroke-width="0.8"/><line x1="462.22" y1="474.50" x2="462.22" y2="476.10" stroke="#cfd3d6" stroke-width="0.8"/><line x1="493.93" y1="474.50" x2="493.93" y2="476.10" stroke="#cfd3d6" stroke-width="0.8"/><line x1="525.64" y1="474.50" x2="525.64" y2="476.10" stroke="#cfd3d6" stroke-width="0.8"/><line x1="557.36" y1="474.50" x2="557.36" y2="476.10" stroke="#cfd3d6" stroke-width="0.8"/><line x1="589.07" y1="474.50" x2="589.07" y2="476.10" stroke="#cfd3d6" stroke-width="0.8"/><line x1="620.78" y1="474.50" x2="620.78" y2="476.10" stroke="#cfd3d6" stroke-width="0.8"/><line x1="652.49" y1="474.50" x2="652.49" y2="476.10" stroke="#cfd3d6" stroke-width="0.8"/><text x="29.50" y="476.50" text-anchor="end" font-family='"Liberation Sans", sans-serif' font-size="5.90" fill="#454552" stroke="#454552" stroke-width="0.28">0.000</text><text x="29.50" y="459.85" text-anchor="end" font-family='"Liberation Sans", sans-serif' font-size="5.90" fill="#454552" stroke="#454552" stroke-width="0.28">0.100</text><text x="29.50" y="443.21" text-anchor="end" font-family='"Liberation Sans", sans-serif' font-size="5.90" fill="#454552" stroke="#454552" stroke-width="0.28">0.200</text><text x="29.50" y="426.56" text-anchor="end" font-family='"Liberation Sans", sans-serif' font-size="5.90" fill="#454552" stroke="#454552" stroke-width="0.28">0.300</text><text x="29.50" y="409.92" text-anchor="end" font-family='"Liberation Sans", sans-serif' font-size="5.90" fill="#454552" stroke="#454552" stroke-width="0.28">0.400</text><text x="29.50" y="393.27" text-anchor="end" font-family='"Liberation Sans", sans-serif' font-size="5.90" fill="#454552" stroke="#454552" stroke-width="0.28">0.500</text><text x="29.50" y="376.62" text-anchor="end" font-family='"Liberation Sans", sans-serif' font-size="5.90" fill="#454552" stroke="#454552" stroke-width="0.28">0.600</text><text x="29.50" y="359.98" text-anchor="end" font-family='"Liberation Sans", sans-serif' font-size="5.90" fill="#454552" stroke="#454552" stroke-width="0.28">0.700</text><text x="29.50" y="343.33" text-anchor="end" font-family='"Liberation Sans", sans-serif' font-size="5.90" fill="#454552" stroke="#454552" stroke-width="0.28">0.800</text><text x="29.50" y="326.68" text-anchor="end" font-family='"Liberation Sans", sans-serif' font-size="5.90" fill="#454552" stroke="#454552" stroke-width="0.28">0.900</text><text x="29.50" y="310.04" text-anchor="end" font-family='"Liberation Sans", sans-serif' font-size="5.90" fill="#454552" stroke="#454552" stroke-width="0.28">1.000</text><text x="29.50" y="293.39" text-anchor="end" font-family='"Liberation Sans", sans-serif' font-size="5.90" fill="#454552" stroke="#454552" stroke-width="0.28">1.100</text><text x="29.50" y="276.75" text-anchor="end" font-family='"Liberation Sans", sans-serif' font-size="5.90" fill="#454552" stroke="#454552" stroke-width="0.28">1.200</text><text x="29.50" y="260.10" text-anchor="end" font-family='"Liberation Sans", sans-serif' font-size="5.90" fill="#454552" stroke="#454552" stroke-width="0.28">1.300</text><text x="34.10" y="485.00" text-anchor="middle" font-family='"Liberation Sans", sans-serif' font-size="5.90" fill="#454552" stroke="#454552" stroke-width="0.28">0.00</text><text x="65.81" y="485.00" text-anchor="middle" font-family='"Liberation Sans", sans-serif' font-size="5.90" fill="#454552" stroke="#454552" stroke-width="0.28">2.00</text><text x="97.53" y="485.00" text-anchor="middle" font-family='"Liberation Sans", sans-serif' font-size="5.90" fill="#454552" stroke="#454552" stroke-width="0.28">4.00</text><text x="129.24" y="485.00" text-anchor="middle" font-family='"Liberation Sans", sans-serif' font-size="5.90" fill="#454552" stroke="#454552" stroke-width="0.28">6.00</text><text x="160.95" y="485.00" text-anchor="middle" font-family='"Liberation Sans", sans-serif' font-size="5.90" fill="#454552" stroke="#454552" stroke-width="0.28">8.00</text><text x="192.66" y="485.00" text-anchor="middle" font-family='"Liberation Sans", sans-serif' font-size="5.90" fill="#454552" stroke="#454552" stroke-width="0.28">10.00</text><text x="224.38" y="485.00" text-anchor="middle" font-family='"Liberation Sans", sans-serif' font-size="5.90" fill="#454552" stroke="#454552" stroke-width="0.28">12.00</text><text x="256.09" y="485.00" text-anchor="middle" font-family='"Liberation Sans", sans-serif' font-size="5.90" fill="#454552" stroke="#454552" stroke-width="0.28">14.00</text><text x="287.80" y="485.00" text-anchor="middle" font-family='"Liberation Sans", sans-serif' font-size="5.90" fill="#454552" stroke="#454552" stroke-width="0.28">16.00</text><text x="319.51" y="485.00" text-anchor="middle" font-family='"Liberation Sans", sans-serif' font-size="5.90" fill="#454552" stroke="#454552" stroke-width="0.28">18.00</text><text x="351.23" y="485.00" text-anchor="middle" font-family='"Liberation Sans", sans-serif' font-size="5.90" fill="#454552" stroke="#454552" stroke-width="0.28">20.00</text><text x="382.94" y="485.00" text-anchor="middle" font-family='"Liberation Sans", sans-serif' font-size="5.90" fill="#454552" stroke="#454552" stroke-width="0.28">22.00</text><text x="414.65" y="485.00" text-anchor="middle" font-family='"Liberation Sans", sans-serif' font-size="5.90" fill="#454552" stroke="#454552" stroke-width="0.28">24.00</text><text x="446.36" y="485.00" text-anchor="middle" font-family='"Liberation Sans", sans-serif' font-size="5.90" fill="#454552" stroke="#454552" stroke-width="0.28">26.00</text><text x="478.08" y="485.00" text-anchor="middle" font-family='"Liberation Sans", sans-serif' font-size="5.90" fill="#454552" stroke="#454552" stroke-width="0.28">28.00</text><text x="509.79" y="485.00" text-anchor="middle" font-family='"Liberation Sans", sans-serif' font-size="5.90" fill="#454552" stroke="#454552" stroke-width="0.28">30.00</text><text x="541.50" y="485.00" text-anchor="middle" font-family='"Liberation Sans", sans-serif' font-size="5.90" fill="#454552" stroke="#454552" stroke-width="0.28">32.00</text><text x="573.21" y="485.00" text-anchor="middle" font-family='"Liberation Sans", sans-serif' font-size="5.90" fill="#454552" stroke="#454552" stroke-width="0.28">34.00</text><text x="604.93" y="485.00" text-anchor="middle" font-family='"Liberation Sans", sans-serif' font-size="5.90" fill="#454552" stroke="#454552" stroke-width="0.28">36.00</text><text x="636.64" y="485.00" text-anchor="middle" font-family='"Liberation Sans", sans-serif' font-size="5.90" fill="#454552" stroke="#454552" stroke-width="0.28">38.00</text><text x="668.35" y="485.00" text-anchor="middle" font-family='"Liberation Sans", sans-serif' font-size="5.90" fill="#454552" stroke="#454552" stroke-width="0.28">40.00</text><text x="351.23" y="491.70" text-anchor="middle" font-family='"Liberation Sans", sans-serif' font-size="5.40" fill="#454552" stroke="#454552" stroke-width="0.15">Cycle</text><text x="0" y="0" transform="translate(10.90,365.90) rotate(-90)" text-anchor="middle" font-family='"Liberation Sans", sans-serif' font-size="5.10" fill="#454552" stroke="#454552" stroke-width="0.15">Fluorescence</text><polyline points="49.96,470.84 65.81,472.44 81.67,473.13 97.53,473.42 113.38,473.53 129.24,473.54 145.09,473.45 160.95,473.20 176.81,472.65 192.66,471.51 208.52,469.31 224.38,465.37 240.23,458.86 256.09,449.00 271.94,435.40 287.80,418.33 303.66,398.74 319.51,378.04 335.37,357.70 351.23,338.91 367.08,322.44 382.94,308.57 398.79,297.28 414.65,288.31 430.51,281.31 446.36,275.95 462.22,271.87 478.08,268.80 493.93,266.50 509.79,264.79 525.64,263.52 541.50,262.58 557.36,261.88 573.21,261.37 589.07,260.99 604.93,260.71 620.78,260.51 636.64,260.35 652.49,260.24 668.35,260.16" fill="none" stroke="#7f8dcc" stroke-width="1.35" stroke-linejoin="round" stroke-dasharray="1.2 1.0" stroke-dashoffset="0"/><polyline points="49.96,470.84 65.81,472.43 81.67,473.13 97.53,473.42 113.38,473.53 129.24,473.53 145.09,473.42 160.95,473.16 176.81,472.57 192.66,471.38 208.52,469.14 224.38,465.22 240.23,458.78 256.09,448.97 271.94,435.38 287.80,418.46 303.66,399.10 319.51,378.65 335.37,358.53 351.23,339.91 367.08,323.51 382.94,309.65 398.79,298.32 414.65,289.29 430.51,282.24 446.36,276.82 462.22,272.69 478.08,269.58 493.93,267.25 509.79,265.50 525.64,264.19 541.50,263.19 557.36,262.42 573.21,261.82 589.07,261.32 604.93,260.88 620.78,260.48 636.64,260.08 652.49,259.68 668.35,259.25" fill="none" stroke="#d5566f" stroke-width="1.35" stroke-linejoin="round" stroke-dasharray="1.2 1.0" stroke-dashoffset="0"/><polyline points="49.96,470.84 65.81,472.44 81.67,473.13 97.53,473.44 113.38,473.57 129.24,473.62 145.09,473.64 160.95,473.64 176.81,473.62 192.66,473.57 208.52,473.43 224.38,473.12 240.23,472.43 256.09,471.01 271.94,468.32 287.80,463.64 303.66,456.14 319.51,444.76 335.37,429.17 351.23,410.29 367.08,388.74 382.94,367.10 398.79,346.83 414.65,328.92 430.51,313.84 446.36,301.64 462.22,292.08 478.08,284.77 493.93,279.29 509.79,275.24 525.64,272.26 541.50,270.06 557.36,268.39 573.21,267.07 589.07,265.94 604.93,264.87 620.78,263.77 636.64,262.55 652.49,261.15 668.35,259.51" fill="none" stroke="#8bc074" stroke-width="1.35" stroke-linejoin="round" stroke-dasharray="1.2 1.0" stroke-dashoffset="0"/><polyline points="49.96,470.84 65.81,472.44 81.67,473.13 97.53,473.43 113.38,473.56 129.24,473.62 145.09,473.64 160.95,473.63 176.81,473.59 192.66,473.50 208.52,473.28 224.38,472.82 240.23,471.87 256.09,470.03 271.94,466.72 287.80,461.07 303.66,452.15 319.51,439.68 335.37,423.88 351.23,405.45 367.08,385.63 382.94,365.84 398.79,347.29 414.65,330.82 430.51,316.82 446.36,305.34 462.22,296.17 478.08,289.00 493.93,283.48 509.79,279.26 525.64,276.05 541.50,273.58 557.36,271.66 573.21,270.12 589.07,268.83 604.93,267.68 620.78,266.60 636.64,265.51 652.49,264.38 668.35,263.16" fill="none" stroke="#cf8cc6" stroke-width="1.35" stroke-linejoin="round" stroke-dasharray="1.2 1.0" stroke-dashoffset="0"/><polyline points="49.96,470.84 65.81,472.44 81.67,473.13 97.53,473.44 113.38,473.57 129.24,473.62 145.09,473.65 160.95,473.66 176.81,473.66 192.66,473.65 208.52,473.64 224.38,473.60 240.23,473.52 256.09,473.33 271.94,472.92 287.80,472.09 303.66,470.48 319.51,467.59 335.37,462.78 351.23,455.35 367.08,443.75 382.94,428.62 398.79,410.69 414.65,391.04 430.51,371.02 446.36,351.90 462.22,334.61 478.08,319.69 493.93,307.26 509.79,297.21 525.64,289.25 541.50,283.05 557.36,278.24 573.21,274.52 589.07,271.60 604.93,269.26 620.78,267.31 636.64,265.58 652.49,263.98 668.35,262.38" fill="none" stroke="#f1b460" stroke-width="1.35" stroke-linejoin="round" stroke-dasharray="1.2 1.0" stroke-dashoffset="0"/><polyline points="49.96,470.84 65.81,472.44 81.67,473.13 97.53,473.44 113.38,473.57 129.24,473.62 145.09,473.65 160.95,473.66 176.81,473.66 192.66,473.65 208.52,473.63 224.38,473.58 240.23,473.46 256.09,473.21 271.94,472.66 287.80,471.57 303.66,469.50 319.51,465.84 335.37,459.86 351.23,450.81 367.08,437.62 382.94,421.16 398.79,402.24 414.65,382.13 430.51,362.19 446.36,343.60 462.22,327.14 478.08,313.16 493.93,301.69 509.79,292.50 525.64,285.29 541.50,279.69 557.36,275.37 573.21,272.02 589.07,269.38 604.93,267.25 620.78,265.44 636.64,263.83 652.49,262.30 668.35,260.77" fill="none" stroke="#f6d660" stroke-width="1.35" stroke-linejoin="round" stroke-dasharray="1.2 1.0" stroke-dashoffset="0"/><polyline points="49.96,470.84 65.81,472.44 81.67,473.13 97.53,473.44 113.38,473.57 129.24,473.62 145.09,473.65 160.95,473.66 176.81,473.66 192.66,473.67 208.52,473.67 224.38,473.66 240.23,473.66 256.09,473.65 271.94,473.63 287.80,473.57 303.66,473.45 319.51,473.17 335.37,472.56 351.23,471.34 367.08,469.04 382.94,465.08 398.79,458.43 414.65,448.08 430.51,433.89 446.36,416.50 462.22,396.90 478.08,376.48 493.93,356.68 509.79,338.58 525.64,322.86 541.50,309.72 557.36,299.08 573.21,290.65 589.07,284.07 604.93,278.97 620.78,275.00 636.64,271.87 652.49,269.33 668.35,267.20" fill="none" stroke="#78a098" stroke-width="1.35" stroke-linejoin="round" stroke-dasharray="1.2 1.0" stroke-dashoffset="0"/><polyline points="49.96,470.84 65.81,472.44 81.67,473.13 97.53,473.44 113.38,473.57 129.24,473.62 145.09,473.65 160.95,473.66 176.81,473.66 192.66,473.67 208.52,473.67 224.38,473.66 240.23,473.66 256.09,473.65 271.94,473.62 287.80,473.55 303.66,473.40 319.51,473.08 335.37,472.41 351.23,471.09 367.08,468.71 382.94,464.80 398.79,458.07 414.65,447.45 430.51,433.18 446.36,415.97 462.22,396.70 478.08,376.65 493.93,357.13 509.79,339.19 525.64,323.47 541.50,310.21 557.36,299.35 573.21,290.62 589.07,283.67 604.93,278.11 620.78,273.59 636.64,269.79 652.49,266.44 668.35,263.31" fill="none" stroke="#8a7a82" stroke-width="1.35" stroke-linejoin="round" stroke-dasharray="1.2 1.0" stroke-dashoffset="0"/><polyline points="49.96,470.84 65.81,472.44 81.67,473.13 97.53,473.44 113.38,473.57 129.24,473.62 145.09,473.65 160.95,473.66 176.81,473.66 192.66,473.67 208.52,473.67 224.38,473.67 240.23,473.67 256.09,473.67 271.94,473.66 287.80,473.66 303.66,473.65 319.51,473.63 335.37,473.57 351.23,473.45 367.08,473.17 382.94,472.60 398.79,471.45 414.65,469.36 430.51,465.90 446.36,460.63 462.22,450.75 478.08,436.72 493.93,419.85 509.79,400.90 525.64,381.06 541.50,361.58 557.36,343.54 573.21,327.60 589.07,314.02 604.93,302.72 620.78,293.42 636.64,285.71 652.49,279.16 668.35,273.37" fill="none" stroke="#9080c4" stroke-width="1.35" stroke-linejoin="round" stroke-dasharray="1.2 1.0" stroke-dashoffset="0"/><polyline points="49.96,470.84 65.81,472.44 81.67,473.13 97.53,473.44 113.38,473.57 129.24,473.62 145.09,473.65 160.95,473.66 176.81,473.66 192.66,473.67 208.52,473.67 224.38,473.67 240.23,473.67 256.09,473.67 271.94,473.66 287.80,473.66 303.66,473.65 319.51,473.63 335.37,473.58 351.23,473.46 367.08,473.20 382.94,472.66 398.79,471.57 414.65,469.57 430.51,466.24 446.36,461.13 462.22,451.72 478.08,437.95 493.93,421.29 509.79,402.47 525.64,382.65 541.50,363.10 557.36,344.91 573.21,328.79 589.07,315.02 604.93,303.55 620.78,294.10 636.64,286.28 652.49,279.65 668.35,273.81" fill="none" stroke="#a28ccc" stroke-width="1.35" stroke-linejoin="round" stroke-dasharray="1.2 1.0" stroke-dashoffset="0"/><polyline points="49.96,470.84 65.81,472.44 81.67,473.13 97.53,473.44 113.38,473.57 129.24,473.62 145.09,473.65 160.95,473.66 176.81,473.66 192.66,473.67 208.52,473.67 224.38,473.67 240.23,473.67 256.09,473.67 271.94,473.67 287.80,473.67 303.66,473.67 319.51,473.67 335.37,473.67 351.23,473.66 367.08,473.66 382.94,473.65 398.79,473.61 414.65,473.52 430.51,473.30 446.36,472.77 462.22,471.57 478.08,469.17 493.93,464.91 509.79,457.91 525.64,443.67 541.50,426.03 557.36,405.97 573.21,384.88 589.07,364.40 604.93,345.80 620.78,329.65 636.64,315.92 652.49,304.11 668.35,293.47" fill="none" stroke="#93bc48" stroke-width="1.35" stroke-linejoin="round" stroke-dasharray="1.2 1.0" stroke-dashoffset="0"/><polyline points="49.96,470.84 65.81,472.44 81.67,473.13 97.53,473.44 113.38,473.57 129.24,473.62 145.09,473.65 160.95,473.66 176.81,473.66 192.66,473.67 208.52,473.67 224.38,473.67 240.23,473.67 256.09,473.67 271.94,473.67 287.80,473.67 303.66,473.67 319.51,473.67 335.37,473.67 351.23,473.67 367.08,473.66 382.94,473.65 398.79,473.62 414.65,473.53 430.51,473.33 446.36,472.83 462.22,471.70 478.08,469.42 493.93,465.34 509.79,458.61 525.64,444.95 541.50,427.55 557.36,407.63 573.21,386.57 589.07,365.98 604.93,347.20 620.78,330.85 636.64,316.94 652.49,305.00 668.35,294.30" fill="none" stroke="#b8cf48" stroke-width="1.35" stroke-linejoin="round" stroke-dasharray="1.2 1.0" stroke-dashoffset="0"/><polyline points="49.96,470.84 65.81,472.44 81.67,473.13 97.53,473.44 113.38,473.57 129.24,473.62 145.09,473.65 160.95,473.66 176.81,473.66 192.66,473.67 208.52,473.67 224.38,473.67 240.23,473.67 256.09,473.67 271.94,473.67 287.80,473.67 303.66,473.67 319.51,473.67 335.37,473.67 351.23,473.67 367.08,473.67 382.94,473.67 398.79,473.67 414.65,473.67 430.51,473.66 446.36,473.66 462.22,473.63 478.08,473.57 493.93,473.41 509.79,472.99 525.64,472.01 541.50,469.82 557.36,465.62 573.21,458.35 589.07,446.76 604.93,430.89 620.78,411.92 636.64,391.76 652.49,372.47 668.35,355.56" fill="none" stroke="#f2de6c" stroke-width="1.35" stroke-linejoin="round" stroke-dasharray="1.2 1.0" stroke-dashoffset="0"/><polyline points="49.96,470.84 65.81,472.44 81.67,473.13 97.53,473.44 113.38,473.57 129.24,473.62 145.09,473.65 160.95,473.66 176.81,473.66 192.66,473.67 208.52,473.67 224.38,473.67 240.23,473.67 256.09,473.67 271.94,473.67 287.80,473.67 303.66,473.67 319.51,473.67 335.37,473.67 351.23,473.67 367.08,473.67 382.94,473.67 398.79,473.67 414.65,473.67 430.51,473.67 446.36,473.67 462.22,473.67 478.08,473.66 493.93,473.66 509.79,473.62 525.64,473.51 541.50,473.15 557.36,472.05 573.21,468.91 589.07,462.10 604.93,451.73 620.78,432.44 636.64,407.06 652.49,380.58 668.35,358.03" fill="none" stroke="#98d2f0" stroke-width="1.35" stroke-linejoin="round" stroke-dasharray="1.2 1.0" stroke-dashoffset="0"/><polyline points="49.96,470.84 65.81,472.44 81.67,473.13 97.53,473.44 113.38,473.57 129.24,473.62 145.09,473.65 160.95,473.66 176.81,473.66 192.66,473.67 208.52,473.67 224.38,473.67 240.23,473.67 256.09,473.67 271.94,473.67 287.80,473.67 303.66,473.67 319.51,473.67 335.37,473.67 351.23,473.67 367.08,473.67 382.94,473.67 398.79,473.67 414.65,473.67 430.51,473.67 446.36,473.67 462.22,473.67 478.08,473.66 493.93,473.65 509.79,473.61 525.64,473.48 541.50,473.14 557.36,472.21 573.21,469.89 589.07,465.56 604.93,459.02 620.78,447.32 636.64,432.05 652.49,415.86 668.35,401.59" fill="none" stroke="#929292" stroke-width="1.35" stroke-linejoin="round" stroke-dasharray="1.2 1.0" stroke-dashoffset="0"/><polyline points="49.96,470.47 65.81,472.23 81.67,473.00 97.53,473.33 113.38,473.47 129.24,473.54 145.09,473.56 160.95,473.58" fill="none" stroke="#dca070" stroke-width="1.3" stroke-linejoin="round" stroke-dasharray="1.2 1.0"/><line x1="34.10" y1="474.50" x2="668.35" y2="474.50" stroke="#3a3ab8" stroke-width="1.1" stroke-dasharray="2.2 1.2"/><text x="35.70" y="473.00" font-family='"Liberation Sans", sans-serif' font-size="5.0" font-weight="bold" fill="#3a3ad0">0.000</text><text x="40.60" y="286.00" font-family='"Liberation Serif", serif' font-size="24" fill="#000">B</text><text x="227.90" y="442.50" font-family='"Liberation Serif", serif' font-size="18.8" fill="#000">10</text><text x="246.00" y="436.60" font-family='"Liberation Serif", serif' font-size="14" fill="#000">8</text><text x="282.80" y="442.50" font-family='"Liberation Serif", serif' font-size="18.8" fill="#000">10</text><text x="300.90" y="436.60" font-family='"Liberation Serif", serif' font-size="14" fill="#000">7</text><text x="337.60" y="442.50" font-family='"Liberation Serif", serif' font-size="18.8" fill="#000">10</text><text x="355.70" y="436.60" font-family='"Liberation Serif", serif' font-size="14" fill="#000">6</text><text x="392.10" y="442.50" font-family='"Liberation Serif", serif' font-size="18.8" fill="#000">10</text><text x="410.20" y="436.60" font-family='"Liberation Serif", serif' font-size="14" fill="#000">5</text><text x="446.90" y="442.50" font-family='"Liberation Serif", serif' font-size="18.8" fill="#000">10</text><text x="465.00" y="436.60" font-family='"Liberation Serif", serif' font-size="14" fill="#000">4</text><text x="501.60" y="442.50" font-family='"Liberation Serif", serif' font-size="18.8" fill="#000">10</text><text x="519.70" y="436.60" font-family='"Liberation Serif", serif' font-size="14" fill="#000">3</text><text x="556.60" y="442.50" font-family='"Liberation Serif", serif' font-size="18.8" fill="#000">10</text><text x="574.70" y="436.60" font-family='"Liberation Serif", serif' font-size="14" fill="#000">2</text><text x="611.60" y="442.50" font-family='"Liberation Serif", serif' font-size="18.8" fill="#000">10</text><text x="629.70" y="436.60" font-family='"Liberation Serif", serif' font-size="14" fill="#000">1</text></g>
<g id="C"><line x1="65.81" y1="517.50" x2="65.81" y2="735.00" stroke="#eaeced" stroke-width="1"/><line x1="97.53" y1="517.50" x2="97.53" y2="735.00" stroke="#eaeced" stroke-width="1"/><line x1="129.24" y1="517.50" x2="129.24" y2="735.00" stroke="#eaeced" stroke-width="1"/><line x1="160.95" y1="517.50" x2="160.95" y2="735.00" stroke="#eaeced" stroke-width="1"/><line x1="192.66" y1="517.50" x2="192.66" y2="735.00" stroke="#eaeced" stroke-width="1"/><line x1="224.38" y1="517.50" x2="224.38" y2="735.00" stroke="#eaeced" stroke-width="1"/><line x1="256.09" y1="517.50" x2="256.09" y2="735.00" stroke="#eaeced" stroke-width="1"/><line x1="287.80" y1="517.50" x2="287.80" y2="735.00" stroke="#eaeced" stroke-width="1"/><line x1="319.51" y1="517.50" x2="319.51" y2="735.00" stroke="#eaeced" stroke-width="1"/><line x1="351.23" y1="517.50" x2="351.23" y2="735.00" stroke="#eaeced" stroke-width="1"/><line x1="382.94" y1="517.50" x2="382.94" y2="735.00" stroke="#eaeced" stroke-width="1"/><line x1="414.65" y1="517.50" x2="414.65" y2="735.00" stroke="#eaeced" stroke-width="1"/><line x1="446.36" y1="517.50" x2="446.36" y2="735.00" stroke="#eaeced" stroke-width="1"/><line x1="478.08" y1="517.50" x2="478.08" y2="735.00" stroke="#eaeced" stroke-width="1"/><line x1="509.79" y1="517.50" x2="509.79" y2="735.00" stroke="#eaeced" stroke-width="1"/><line x1="541.50" y1="517.50" x2="541.50" y2="735.00" stroke="#eaeced" stroke-width="1"/><line x1="573.21" y1="517.50" x2="573.21" y2="735.00" stroke="#eaeced" stroke-width="1"/><line x1="604.93" y1="517.50" x2="604.93" y2="735.00" stroke="#eaeced" stroke-width="1"/><line x1="636.64" y1="517.50" x2="636.64" y2="735.00" stroke="#eaeced" stroke-width="1"/><line x1="668.35" y1="517.50" x2="668.35" y2="735.00" stroke="#eaeced" stroke-width="1"/><line x1="34.10" y1="735.00" x2="668.35" y2="735.00" stroke="#eaeced" stroke-width="1"/><line x1="34.10" y1="723.23" x2="668.35" y2="723.23" stroke="#eaeced" stroke-width="1"/><line x1="34.10" y1="711.46" x2="668.35" y2="711.46" stroke="#eaeced" stroke-width="1"/><line x1="34.10" y1="699.69" x2="668.35" y2="699.69" stroke="#eaeced" stroke-width="1"/><line x1="34.10" y1="687.92" x2="668.35" y2="687.92" stroke="#eaeced" stroke-width="1"/><line x1="34.10" y1="676.15" x2="668.35" y2="676.15" stroke="#eaeced" stroke-width="1"/><line x1="34.10" y1="664.38" x2="668.35" y2="664.38" stroke="#eaeced" stroke-width="1"/><line x1="34.10" y1="652.61" x2="668.35" y2="652.61" stroke="#eaeced" stroke-width="1"/><line x1="34.10" y1="640.84" x2="668.35" y2="640.84" stroke="#eaeced" stroke-width="1"/><line x1="34.10" y1="629.07" x2="668.35" y2="629.07" stroke="#eaeced" stroke-width="1"/><line x1="34.10" y1="617.31" x2="668.35" y2="617.31" stroke="#eaeced" stroke-width="1"/><line x1="34.10" y1="605.54" x2="668.35" y2="605.54" stroke="#eaeced" stroke-width="1"/><line x1="34.10" y1="593.77" x2="668.35" y2="593.77" stroke="#eaeced" stroke-width="1"/><line x1="34.10" y1="582.00" x2="668.35" y2="582.00" stroke="#eaeced" stroke-width="1"/><line x1="34.10" y1="570.23" x2="668.35" y2="570.23" stroke="#eaeced" stroke-width="1"/><line x1="34.10" y1="558.46" x2="668.35" y2="558.46" stroke="#eaeced" stroke-width="1"/><line x1="34.10" y1="546.69" x2="668.35" y2="546.69" stroke="#eaeced" stroke-width="1"/><line x1="34.10" y1="534.92" x2="668.35" y2="534.92" stroke="#eaeced" stroke-width="1"/><line x1="34.10" y1="523.15" x2="668.35" y2="523.15" stroke="#eaeced" stroke-width="1"/><line x1="34.10" y1="517.50" x2="668.35" y2="517.50" stroke="#eaeced" stroke-width="1"/><line x1="668.35" y1="517.50" x2="668.35" y2="735.00" stroke="#eaeced" stroke-width="1"/><line x1="34.10" y1="735.00" x2="668.35" y2="735.00" stroke="#cfd3d6" stroke-width="1"/><line x1="34.10" y1="517.50" x2="34.10" y2="735.00" stroke="#cfd3d6" stroke-width="1"/><line x1="32.50" y1="735.00" x2="34.10" y2="735.00" stroke="#cfd3d6" stroke-width="0.8"/><line x1="32.50" y1="732.65" x2="34.10" y2="732.65" stroke="#cfd3d6" stroke-width="0.8"/><line x1="32.50" y1="730.29" x2="34.10" y2="730.29" stroke="#cfd3d6" stroke-width="0.8"/><line x1="32.50" y1="727.94" x2="34.10" y2="727.94" stroke="#cfd3d6" stroke-width="0.8"/><line x1="32.50" y1="725.58" x2="34.10" y2="725.58" stroke="#cfd3d6" stroke-width="0.8"/><line x1="32.50" y1="723.23" x2="34.10" y2="723.23" stroke="#cfd3d6" stroke-width="0.8"/><line x1="32.50" y1="720.88" x2="34.10" y2="720.88" stroke="#cfd3d6" stroke-width="0.8"/><line x1="32.50" y1="718.52" x2="34.10" y2="718.52" stroke="#cfd3d6" stroke-width="0.8"/><line x1="32.50" y1="716.17" x2="34.10" y2="716.17" stroke="#cfd3d6" stroke-width="0.8"/><line x1="32.50" y1="713.81" x2="34.10" y2="713.81" stroke="#cfd3d6" stroke-width="0.8"/><line x1="32.50" y1="711.46" x2="34.10" y2="711.46" stroke="#cfd3d6" stroke-width="0.8"/><line x1="32.50" y1="709.11" x2="34.10" y2="709.11" stroke="#cfd3d6" stroke-width="0.8"/><line x1="32.50" y1="706.75" x2="34.10" y2="706.75" stroke="#cfd3d6" stroke-width="0.8"/><line x1="32.50" y1="704.40" x2="34.10" y2="704.40" stroke="#cfd3d6" stroke-width="0.8"/><line x1="32.50" y1="702.05" x2="34.10" y2="702.05" stroke="#cfd3d6" stroke-width="0.8"/><line x1="32.50" y1="699.69" x2="34.10" y2="699.69" stroke="#cfd3d6" stroke-width="0.8"/><line x1="32.50" y1="697.34" x2="34.10" y2="697.34" stroke="#cfd3d6" stroke-width="0.8"/><line x1="32.50" y1="694.98" x2="34.10" y2="694.98" stroke="#cfd3d6" stroke-width="0.8"/><line x1="32.50" y1="692.63" x2="34.10" y2="692.63" stroke="#cfd3d6" stroke-width="0.8"/><line x1="32.50" y1="690.28" x2="34.10" y2="690.28" stroke="#cfd3d6" stroke-width="0.8"/><line x1="32.50" y1="687.92" x2="34.10" y2="687.92" stroke="#cfd3d6" stroke-width="0.8"/><line x1="32.50" y1="685.57" x2="34.10" y2="685.57" stroke="#cfd3d6" stroke-width="0.8"/><line x1="32.50" y1="683.21" x2="34.10" y2="683.21" stroke="#cfd3d6" stroke-width="0.8"/><line x1="32.50" y1="680.86" x2="34.10" y2="680.86" stroke="#cfd3d6" stroke-width="0.8"/><line x1="32.50" y1="678.51" x2="34.10" y2="678.51" stroke="#cfd3d6" stroke-width="0.8"/><line x1="32.50" y1="676.15" x2="34.10" y2="676.15" stroke="#cfd3d6" stroke-width="0.8"/><line x1="32.50" y1="673.80" x2="34.10" y2="673.80" stroke="#cfd3d6" stroke-width="0.8"/><line x1="32.50" y1="671.44" x2="34.10" y2="671.44" stroke="#cfd3d6" stroke-width="0.8"/><line x1="32.50" y1="669.09" x2="34.10" y2="669.09" stroke="#cfd3d6" stroke-width="0.8"/><line x1="32.50" y1="666.74" x2="34.10" y2="666.74" stroke="#cfd3d6" stroke-width="0.8"/><line x1="32.50" y1="664.38" x2="34.10" y2="664.38" stroke="#cfd3d6" stroke-width="0.8"/><line x1="32.50" y1="662.03" x2="34.10" y2="662.03" stroke="#cfd3d6" stroke-width="0.8"/><line x1="32.50" y1="659.68" x2="34.10" y2="659.68" stroke="#cfd3d6" stroke-width="0.8"/><line x1="32.50" y1="657.32" x2="34.10" y2="657.32" stroke="#cfd3d6" stroke-width="0.8"/><line x1="32.50" y1="654.97" x2="34.10" y2="654.97" stroke="#cfd3d6" stroke-width="0.8"/><line x1="32.50" y1="652.61" x2="34.10" y2="652.61" stroke="#cfd3d6" stroke-width="0.8"/><line x1="32.50" y1="650.26" x2="34.10" y2="650.26" stroke="#cfd3d6" stroke-width="0.8"/><line x1="32.50" y1="647.91" x2="34.10" y2="647.91" stroke="#cfd3d6" stroke-width="0.8"/><line x1="32.50" y1="645.55" x2="34.10" y2="645.55" stroke="#cfd3d6" stroke-width="0.8"/><line x1="32.50" y1="643.20" x2="34.10" y2="643.20" stroke="#cfd3d6" stroke-width="0.8"/><line x1="32.50" y1="640.84" x2="34.10" y2="640.84" stroke="#cfd3d6" stroke-width="0.8"/><line x1="32.50" y1="638.49" x2="34.10" y2="638.49" stroke="#cfd3d6" stroke-width="0.8"/><line x1="32.50" y1="636.14" x2="34.10" y2="636.14" stroke="#cfd3d6" stroke-width="0.8"/><line x1="32.50" y1="633.78" x2="34.10" y2="633.78" stroke="#cfd3d6" stroke-width="0.8"/><line x1="32.50" y1="631.43" x2="34.10" y2="631.43" stroke="#cfd3d6" stroke-width="0.8"/><line x1="32.50" y1="629.07" x2="34.10" y2="629.07" stroke="#cfd3d6" stroke-width="0.8"/><line x1="32.50" y1="626.72" x2="34.10" y2="626.72" stroke="#cfd3d6" stroke-width="0.8"/><line x1="32.50" y1="624.37" x2="34.10" y2="624.37" stroke="#cfd3d6" stroke-width="0.8"/><line x1="32.50" y1="622.01" x2="34.10" y2="622.01" stroke="#cfd3d6" stroke-width="0.8"/><line x1="32.50" y1="619.66" x2="34.10" y2="619.66" stroke="#cfd3d6" stroke-width="0.8"/><line x1="32.50" y1="617.31" x2="34.10" y2="617.31" stroke="#cfd3d6" stroke-width="0.8"/><line x1="32.50" y1="614.95" x2="34.10" y2="614.95" stroke="#cfd3d6" stroke-width="0.8"/><line x1="32.50" y1="612.60" x2="34.10" y2="612.60" stroke="#cfd3d6" stroke-width="0.8"/><line x1="32.50" y1="610.24" x2="34.10" y2="610.24" stroke="#cfd3d6" stroke-width="0.8"/><line x1="32.50" y1="607.89" x2="34.10" y2="607.89" stroke="#cfd3d6" stroke-width="0.8"/><line x1="32.50" y1="605.54" x2="34.10" y2="605.54" stroke="#cfd3d6" stroke-width="0.8"/><line x1="32.50" y1="603.18" x2="34.10" y2="603.18" stroke="#cfd3d6" stroke-width="0.8"/><line x1="32.50" y1="600.83" x2="34.10" y2="600.83" stroke="#cfd3d6" stroke-width="0.8"/><line x1="32.50" y1="598.47" x2="34.10" y2="598.47" stroke="#cfd3d6" stroke-width="0.8"/><line x1="32.50" y1="596.12" x2="34.10" y2="596.12" stroke="#cfd3d6" stroke-width="0.8"/><line x1="32.50" y1="593.77" x2="34.10" y2="593.77" stroke="#cfd3d6" stroke-width="0.8"/><line x1="32.50" y1="591.41" x2="34.10" y2="591.41" stroke="#cfd3d6" stroke-width="0.8"/><line x1="32.50" y1="589.06" x2="34.10" y2="589.06" stroke="#cfd3d6" stroke-width="0.8"/><line x1="32.50" y1="586.70" x2="34.10" y2="586.70" stroke="#cfd3d6" stroke-width="0.8"/><line x1="32.50" y1="584.35" x2="34.10" y2="584.35" stroke="#cfd3d6" stroke-width="0.8"/><line x1="32.50" y1="582.00" x2="34.10" y2="582.00" stroke="#cfd3d6" stroke-width="0.8"/><line x1="32.50" y1="579.64" x2="34.10" y2="579.64" stroke="#cfd3d6" stroke-width="0.8"/><line x1="32.50" y1="577.29" x2="34.10" y2="577.29" stroke="#cfd3d6" stroke-width="0.8"/><line x1="32.50" y1="574.94" x2="34.10" y2="574.94" stroke="#cfd3d6" stroke-width="0.8"/><line x1="32.50" y1="572.58" x2="34.10" y2="572.58" stroke="#cfd3d6" stroke-width="0.8"/><line x1="32.50" y1="570.23" x2="34.10" y2="570.23" stroke="#cfd3d6" stroke-width="0.8"/><line x1="32.50" y1="567.87" x2="34.10" y2="567.87" stroke="#cfd3d6" stroke-width="0.8"/><line x1="32.50" y1="565.52" x2="34.10" y2="565.52" stroke="#cfd3d6" stroke-width="0.8"/><line x1="32.50" y1="563.17" x2="34.10" y2="563.17" stroke="#cfd3d6" stroke-width="0.8"/><line x1="32.50" y1="560.81" x2="34.10" y2="560.81" stroke="#cfd3d6" stroke-width="0.8"/><line x1="32.50" y1="558.46" x2="34.10" y2="558.46" stroke="#cfd3d6" stroke-width="0.8"/><line x1="32.50" y1="556.10" x2="34.10" y2="556.10" stroke="#cfd3d6" stroke-width="0.8"/><line x1="32.50" y1="553.75" x2="34.10" y2="553.75" stroke="#cfd3d6" stroke-width="0.8"/><line x1="32.50" y1="551.40" x2="34.10" y2="551.40" stroke="#cfd3d6" stroke-width="0.8"/><line x1="32.50" y1="549.04" x2="34.10" y2="549.04" stroke="#cfd3d6" stroke-width="0.8"/><line x1="32.50" y1="546.69" x2="34.10" y2="546.69" stroke="#cfd3d6" stroke-width="0.8"/><line x1="32.50" y1="544.33" x2="34.10" y2="544.33" stroke="#cfd3d6" stroke-width="0.8"/><line x1="32.50" y1="541.98" x2="34.10" y2="541.98" stroke="#cfd3d6" stroke-width="0.8"/><line x1="32.50" y1="539.63" x2="34.10" y2="539.63" stroke="#cfd3d6" stroke-width="0.8"/><line x1="32.50" y1="537.27" x2="34.10" y2="537.27" stroke="#cfd3d6" stroke-width="0.8"/><line x1="32.50" y1="534.92" x2="34.10" y2="534.92" stroke="#cfd3d6" stroke-width="0.8"/><line x1="32.50" y1="532.56" x2="34.10" y2="532.56" stroke="#cfd3d6" stroke-width="0.8"/><line x1="32.50" y1="530.21" x2="34.10" y2="530.21" stroke="#cfd3d6" stroke-width="0.8"/><line x1="32.50" y1="527.86" x2="34.10" y2="527.86" stroke="#cfd3d6" stroke-width="0.8"/><line x1="32.50" y1="525.50" x2="34.10" y2="525.50" stroke="#cfd3d6" stroke-width="0.8"/><line x1="32.50" y1="523.15" x2="34.10" y2="523.15" stroke="#cfd3d6" stroke-width="0.8"/><line x1="32.50" y1="520.80" x2="34.10" y2="520.80" stroke="#cfd3d6" stroke-width="0.8"/><line x1="32.50" y1="518.44" x2="34.10" y2="518.44" stroke="#cfd3d6" stroke-width="0.8"/><line x1="49.96" y1="735.00" x2="49.96" y2="736.60" stroke="#cfd3d6" stroke-width="0.8"/><line x1="81.67" y1="735.00" x2="81.67" y2="736.60" stroke="#cfd3d6" stroke-width="0.8"/><line x1="113.38" y1="735.00" x2="113.38" y2="736.60" stroke="#cfd3d6" stroke-width="0.8"/><line x1="145.09" y1="735.00" x2="145.09" y2="736.60" stroke="#cfd3d6" stroke-width="0.8"/><line x1="176.81" y1="735.00" x2="176.81" y2="736.60" stroke="#cfd3d6" stroke-width="0.8"/><line x1="208.52" y1="735.00" x2="208.52" y2="736.60" stroke="#cfd3d6" stroke-width="0.8"/><line x1="240.23" y1="735.00" x2="240.23" y2="736.60" stroke="#cfd3d6" stroke-width="0.8"/><line x1="271.94" y1="735.00" x2="271.94" y2="736.60" stroke="#cfd3d6" stroke-width="0.8"/><line x1="303.66" y1="735.00" x2="303.66" y2="736.60" stroke="#cfd3d6" stroke-width="0.8"/><line x1="335.37" y1="735.00" x2="335.37" y2="736.60" stroke="#cfd3d6" stroke-width="0.8"/><line x1="367.08" y1="735.00" x2="367.08" y2="736.60" stroke="#cfd3d6" stroke-width="0.8"/><line x1="398.79" y1="735.00" x2="398.79" y2="736.60" stroke="#cfd3d6" stroke-width="0.8"/><line x1="430.51" y1="735.00" x2="430.51" y2="736.60" stroke="#cfd3d6" stroke-width="0.8"/><line x1="462.22" y1="735.00" x2="462.22" y2="736.60" stroke="#cfd3d6" stroke-width="0.8"/><line x1="493.93" y1="735.00" x2="493.93" y2="736.60" stroke="#cfd3d6" stroke-width="0.8"/><line x1="525.64" y1="735.00" x2="525.64" y2="736.60" stroke="#cfd3d6" stroke-width="0.8"/><line x1="557.36" y1="735.00" x2="557.36" y2="736.60" stroke="#cfd3d6" stroke-width="0.8"/><line x1="589.07" y1="735.00" x2="589.07" y2="736.60" stroke="#cfd3d6" stroke-width="0.8"/><line x1="620.78" y1="735.00" x2="620.78" y2="736.60" stroke="#cfd3d6" stroke-width="0.8"/><line x1="652.49" y1="735.00" x2="652.49" y2="736.60" stroke="#cfd3d6" stroke-width="0.8"/><text x="29.50" y="737.00" text-anchor="end" font-family='"Liberation Sans", sans-serif' font-size="5.90" fill="#454552" stroke="#454552" stroke-width="0.28">0.000</text><text x="29.50" y="725.23" text-anchor="end" font-family='"Liberation Sans", sans-serif' font-size="5.90" fill="#454552" stroke="#454552" stroke-width="0.28">0.500</text><text x="29.50" y="713.46" text-anchor="end" font-family='"Liberation Sans", sans-serif' font-size="5.90" fill="#454552" stroke="#454552" stroke-width="0.28">1.000</text><text x="29.50" y="701.69" text-anchor="end" font-family='"Liberation Sans", sans-serif' font-size="5.90" fill="#454552" stroke="#454552" stroke-width="0.28">1.500</text><text x="29.50" y="689.92" text-anchor="end" font-family='"Liberation Sans", sans-serif' font-size="5.90" fill="#454552" stroke="#454552" stroke-width="0.28">2.000</text><text x="29.50" y="678.15" text-anchor="end" font-family='"Liberation Sans", sans-serif' font-size="5.90" fill="#454552" stroke="#454552" stroke-width="0.28">2.500</text><text x="29.50" y="666.38" text-anchor="end" font-family='"Liberation Sans", sans-serif' font-size="5.90" fill="#454552" stroke="#454552" stroke-width="0.28">3.000</text><text x="29.50" y="654.61" text-anchor="end" font-family='"Liberation Sans", sans-serif' font-size="5.90" fill="#454552" stroke="#454552" stroke-width="0.28">3.500</text><text x="29.50" y="642.84" text-anchor="end" font-family='"Liberation Sans", sans-serif' font-size="5.90" fill="#454552" stroke="#454552" stroke-width="0.28">4.000</text><text x="29.50" y="631.07" text-anchor="end" font-family='"Liberation Sans", sans-serif' font-size="5.90" fill="#454552" stroke="#454552" stroke-width="0.28">4.500</text><text x="29.50" y="619.31" text-anchor="end" font-family='"Liberation Sans", sans-serif' font-size="5.90" fill="#454552" stroke="#454552" stroke-width="0.28">5.000</text><text x="29.50" y="607.54" text-anchor="end" font-family='"Liberation Sans", sans-serif' font-size="5.90" fill="#454552" stroke="#454552" stroke-width="0.28">5.500</text><text x="29.50" y="595.77" text-anchor="end" font-family='"Liberation Sans", sans-serif' font-size="5.90" fill="#454552" stroke="#454552" stroke-width="0.28">6.000</text><text x="29.50" y="584.00" text-anchor="end" font-family='"Liberation Sans", sans-serif' font-size="5.90" fill="#454552" stroke="#454552" stroke-width="0.28">6.500</text><text x="29.50" y="572.23" text-anchor="end" font-family='"Liberation Sans", sans-serif' font-size="5.90" fill="#454552" stroke="#454552" stroke-width="0.28">7.000</text><text x="29.50" y="560.46" text-anchor="end" font-family='"Liberation Sans", sans-serif' font-size="5.90" fill="#454552" stroke="#454552" stroke-width="0.28">7.500</text><text x="29.50" y="548.69" text-anchor="end" font-family='"Liberation Sans", sans-serif' font-size="5.90" fill="#454552" stroke="#454552" stroke-width="0.28">8.000</text><text x="29.50" y="536.92" text-anchor="end" font-family='"Liberation Sans", sans-serif' font-size="5.90" fill="#454552" stroke="#454552" stroke-width="0.28">8.500</text><text x="29.50" y="525.15" text-anchor="end" font-family='"Liberation Sans", sans-serif' font-size="5.90" fill="#454552" stroke="#454552" stroke-width="0.28">9.000</text><text x="34.10" y="746.10" text-anchor="middle" font-family='"Liberation Sans", sans-serif' font-size="5.90" fill="#454552" stroke="#454552" stroke-width="0.28">0.00</text><text x="65.81" y="746.10" text-anchor="middle" font-family='"Liberation Sans", sans-serif' font-size="5.90" fill="#454552" stroke="#454552" stroke-width="0.28">2.00</text><text x="97.53" y="746.10" text-anchor="middle" font-family='"Liberation Sans", sans-serif' font-size="5.90" fill="#454552" stroke="#454552" stroke-width="0.28">4.00</text><text x="129.24" y="746.10" text-anchor="middle" font-family='"Liberation Sans", sans-serif' font-size="5.90" fill="#454552" stroke="#454552" stroke-width="0.28">6.00</text><text x="160.95" y="746.10" text-anchor="middle" font-family='"Liberation Sans", sans-serif' font-size="5.90" fill="#454552" stroke="#454552" stroke-width="0.28">8.00</text><text x="192.66" y="746.10" text-anchor="middle" font-family='"Liberation Sans", sans-serif' font-size="5.90" fill="#454552" stroke="#454552" stroke-width="0.28">10.00</text><text x="224.38" y="746.10" text-anchor="middle" font-family='"Liberation Sans", sans-serif' font-size="5.90" fill="#454552" stroke="#454552" stroke-width="0.28">12.00</text><text x="256.09" y="746.10" text-anchor="middle" font-family='"Liberation Sans", sans-serif' font-size="5.90" fill="#454552" stroke="#454552" stroke-width="0.28">14.00</text><text x="287.80" y="746.10" text-anchor="middle" font-family='"Liberation Sans", sans-serif' font-size="5.90" fill="#454552" stroke="#454552" stroke-width="0.28">16.00</text><text x="319.51" y="746.10" text-anchor="middle" font-family='"Liberation Sans", sans-serif' font-size="5.90" fill="#454552" stroke="#454552" stroke-width="0.28">18.00</text><text x="351.23" y="746.10" text-anchor="middle" font-family='"Liberation Sans", sans-serif' font-size="5.90" fill="#454552" stroke="#454552" stroke-width="0.28">20.00</text><text x="382.94" y="746.10" text-anchor="middle" font-family='"Liberation Sans", sans-serif' font-size="5.90" fill="#454552" stroke="#454552" stroke-width="0.28">22.00</text><text x="414.65" y="746.10" text-anchor="middle" font-family='"Liberation Sans", sans-serif' font-size="5.90" fill="#454552" stroke="#454552" stroke-width="0.28">24.00</text><text x="446.36" y="746.10" text-anchor="middle" font-family='"Liberation Sans", sans-serif' font-size="5.90" fill="#454552" stroke="#454552" stroke-width="0.28">26.00</text><text x="478.08" y="746.10" text-anchor="middle" font-family='"Liberation Sans", sans-serif' font-size="5.90" fill="#454552" stroke="#454552" stroke-width="0.28">28.00</text><text x="509.79" y="746.10" text-anchor="middle" font-family='"Liberation Sans", sans-serif' font-size="5.90" fill="#454552" stroke="#454552" stroke-width="0.28">30.00</text><text x="541.50" y="746.10" text-anchor="middle" font-family='"Liberation Sans", sans-serif' font-size="5.90" fill="#454552" stroke="#454552" stroke-width="0.28">32.00</text><text x="573.21" y="746.10" text-anchor="middle" font-family='"Liberation Sans", sans-serif' font-size="5.90" fill="#454552" stroke="#454552" stroke-width="0.28">34.00</text><text x="604.93" y="746.10" text-anchor="middle" font-family='"Liberation Sans", sans-serif' font-size="5.90" fill="#454552" stroke="#454552" stroke-width="0.28">36.00</text><text x="636.64" y="746.10" text-anchor="middle" font-family='"Liberation Sans", sans-serif' font-size="5.90" fill="#454552" stroke="#454552" stroke-width="0.28">38.00</text><text x="668.35" y="746.10" text-anchor="middle" font-family='"Liberation Sans", sans-serif' font-size="5.90" fill="#454552" stroke="#454552" stroke-width="0.28">40.00</text><text x="351.23" y="752.80" text-anchor="middle" font-family='"Liberation Sans", sans-serif' font-size="5.40" fill="#454552" stroke="#454552" stroke-width="0.15">Cycle</text><text x="0" y="0" transform="translate(10.90,626.50) rotate(-90)" text-anchor="middle" font-family='"Liberation Sans", sans-serif' font-size="5.10" fill="#454552" stroke="#454552" stroke-width="0.15">Fluorescence</text><polyline points="49.96,734.31 65.81,734.40 81.67,734.31 97.53,734.14 113.38,733.86 129.24,733.46 145.09,733.08 160.95,732.53 176.81,731.23 192.66,729.23 208.52,726.41 224.38,722.41 240.23,715.58 256.09,706.87 271.94,692.51 287.80,677.45 303.66,662.62 319.51,648.26 335.37,633.43 351.23,619.54 367.08,607.81 382.94,597.41 398.79,588.11 414.65,579.76 430.51,572.16 446.36,565.40 462.22,559.51 478.08,554.34 493.93,549.90 509.79,545.86 525.64,541.93 541.50,538.33 557.36,535.24 573.21,532.45 589.07,529.89 604.93,527.50 620.78,525.14 636.64,523.03 652.49,521.23 668.35,519.97" fill="none" stroke="#7f8dcc" stroke-width="1.25" stroke-linejoin="round" stroke-dasharray="4.2 1.5 1 1.5" stroke-dashoffset="0"/><polyline points="49.96,734.32 65.81,734.42 81.67,734.34 97.53,734.18 113.38,733.91 129.24,733.53 145.09,733.16 160.95,732.65 176.81,731.49 192.66,729.58 208.52,726.93 224.38,723.18 240.23,716.79 256.09,708.56 271.94,694.96 287.80,680.14 303.66,665.50 319.51,651.34 335.37,636.81 351.23,622.89 367.08,611.15 382.94,600.78 398.79,591.51 414.65,583.18 430.51,575.63 446.36,568.86 462.22,562.97 478.08,557.80 493.93,553.35 509.79,549.36 525.64,545.47 541.50,541.87 557.36,538.78 573.21,536.00 589.07,533.46 604.93,531.10 620.78,528.77 636.64,526.64 652.49,524.85 668.35,523.50" fill="none" stroke="#d5566f" stroke-width="1.25" stroke-linejoin="round" stroke-dasharray="4.2 1.5 1 1.5" stroke-dashoffset="0"/><polyline points="49.96,734.42 65.81,734.63 81.67,734.72 97.53,734.75 113.38,734.75 129.24,734.66 145.09,734.51 160.95,734.31 176.81,734.06 192.66,733.69 208.52,733.30 224.38,732.83 240.23,731.75 256.09,729.83 271.94,727.12 287.80,723.17 303.66,716.44 319.51,707.72 335.37,693.40 351.23,678.62 367.08,664.16 382.94,650.01 398.79,635.41 414.65,622.57 430.51,611.57 446.36,601.82 462.22,593.12 478.08,585.30 493.93,578.25 509.79,572.16 525.64,566.84 541.50,562.30 557.36,558.28 573.21,554.41 589.07,550.87 604.93,547.88 620.78,545.23 636.64,542.86 652.49,540.69 668.35,538.57" fill="none" stroke="#cf8cc6" stroke-width="1.25" stroke-linejoin="round" stroke-dasharray="4.2 1.5 1 1.5" stroke-dashoffset="0"/><polyline points="49.96,734.42 65.81,734.63 81.67,734.72 97.53,734.75 113.38,734.75 129.24,734.70 145.09,734.56 160.95,734.36 176.81,734.12 192.66,733.76 208.52,733.33 224.38,732.87 240.23,731.96 256.09,730.02 271.94,727.31 287.80,723.38 303.66,716.64 319.51,707.74 335.37,692.75 351.23,676.73 367.08,660.96 382.94,645.57 398.79,629.67 414.65,615.66 430.51,603.68 446.36,593.08 462.22,583.64 478.08,575.16 493.93,567.59 509.79,561.06 525.64,555.41 541.50,550.63 557.36,546.36 573.21,542.26 589.07,538.67 604.93,535.68 620.78,533.07 636.64,530.80 652.49,528.72 668.35,526.86" fill="none" stroke="#8bc074" stroke-width="1.25" stroke-linejoin="round" stroke-dasharray="4.2 1.5 1 1.5" stroke-dashoffset="0"/><polyline points="49.96,734.45 65.81,734.67 81.67,734.76 97.53,734.80 113.38,734.81 129.24,734.80 145.09,734.79 160.95,734.78 176.81,734.76 192.66,734.69 208.52,734.52 224.38,734.30 240.23,734.02 256.09,733.59 271.94,733.14 287.80,732.53 303.66,730.97 319.51,728.62 335.37,725.09 351.23,719.17 367.08,710.20 382.94,694.82 398.79,677.56 414.65,660.62 430.51,644.11 446.36,627.23 462.22,612.79 478.08,600.46 493.93,589.63 509.79,580.07 525.64,571.52 541.50,564.13 557.36,557.79 573.21,552.45 589.07,547.85 604.93,543.45 620.78,539.50 636.64,536.20 652.49,533.31 668.35,530.71" fill="none" stroke="#f1b460" stroke-width="1.25" stroke-linejoin="round" stroke-dasharray="4.2 1.5 1 1.5" stroke-dashoffset="0"/><polyline points="49.96,734.46 65.81,734.68 81.67,734.77 97.53,734.80 113.38,734.81 129.24,734.81 145.09,734.80 160.95,734.79 176.81,734.77 192.66,734.72 208.52,734.58 224.38,734.36 240.23,734.10 256.09,733.69 271.94,733.24 287.80,732.68 303.66,731.30 319.51,729.01 335.37,725.60 351.23,720.02 367.08,711.28 382.94,696.31 398.79,678.95 414.65,661.91 430.51,645.28 446.36,628.29 462.22,613.79 478.08,601.42 493.93,590.56 509.79,580.98 525.64,572.44 541.50,565.10 557.36,558.84 573.21,553.61 589.07,549.06 604.93,544.73 620.78,540.99 636.64,537.90 652.49,535.22 668.35,532.90" fill="none" stroke="#f6d660" stroke-width="1.25" stroke-linejoin="round" stroke-dasharray="4.2 1.5 1 1.5" stroke-dashoffset="0"/><polyline points="49.96,734.47 65.81,734.70 81.67,734.79 97.53,734.83 113.38,734.84 129.24,734.84 145.09,734.83 160.95,734.83 176.81,734.82 192.66,734.80 208.52,734.79 224.38,734.78 240.23,734.75 256.09,734.63 271.94,734.44 287.80,734.21 303.66,733.86 319.51,733.41 335.37,732.94 351.23,731.98 367.08,730.00 382.94,727.23 398.79,722.79 414.65,714.60 430.51,702.65 446.36,685.51 462.22,668.71 478.08,652.62 493.93,636.28 509.79,621.25 525.64,608.80 541.50,597.98 557.36,588.45 573.21,579.96 589.07,572.43 604.93,565.92 620.78,560.24 636.64,555.26 652.49,550.42 668.35,545.63" fill="none" stroke="#4fc4aa" stroke-width="1.25" stroke-linejoin="round" stroke-dasharray="4.2 1.5 1 1.5" stroke-dashoffset="0"/><polyline points="49.96,734.47 65.81,734.69 81.67,734.79 97.53,734.83 113.38,734.84 129.24,734.84 145.09,734.83 160.95,734.82 176.81,734.81 192.66,734.80 208.52,734.79 224.38,734.77 240.23,734.74 256.09,734.61 271.94,734.41 287.80,734.17 303.66,733.79 319.51,733.34 335.37,732.85 351.23,731.77 367.08,729.68 382.94,726.74 398.79,721.91 414.65,713.28 430.51,700.33 446.36,682.87 462.22,665.82 478.08,649.50 493.93,632.82 509.79,617.81 525.64,605.32 541.50,594.44 557.36,584.86 573.21,576.31 589.07,568.75 604.93,562.21 620.78,556.50 636.64,551.48 652.49,546.54 668.35,541.70" fill="none" stroke="#d75a6f" stroke-width="1.25" stroke-linejoin="round" stroke-dasharray="4.2 1.5 1 1.5" stroke-dashoffset="0"/><polyline points="49.96,734.48 65.81,734.71 81.67,734.80 97.53,734.84 113.38,734.86 129.24,734.86 145.09,734.86 160.95,734.85 176.81,734.85 192.66,734.84 208.52,734.83 224.38,734.82 240.23,734.81 256.09,734.79 271.94,734.78 287.80,734.76 303.66,734.68 319.51,734.50 335.37,734.27 351.23,733.97 367.08,733.53 382.94,733.08 398.79,732.39 414.65,730.65 430.51,728.05 446.36,724.08 462.22,717.07 478.08,707.32 493.93,691.03 509.79,673.86 525.64,657.17 541.50,640.67 557.36,624.19 573.21,610.44 589.07,598.55 604.93,588.07 620.78,578.76 636.64,570.37 652.49,563.10 668.35,556.74" fill="none" stroke="#9080c4" stroke-width="1.25" stroke-linejoin="round" stroke-dasharray="4.2 1.5 1 1.5" stroke-dashoffset="0"/><polyline points="49.96,734.48 65.81,734.71 81.67,734.80 97.53,734.84 113.38,734.86 129.24,734.86 145.09,734.86 160.95,734.85 176.81,734.85 192.66,734.84 208.52,734.83 224.38,734.82 240.23,734.81 256.09,734.80 271.94,734.78 287.80,734.77 303.66,734.69 319.51,734.52 335.37,734.29 351.23,734.00 367.08,733.56 382.94,733.12 398.79,732.47 414.65,730.82 430.51,728.31 446.36,724.46 462.22,717.77 478.08,708.26 493.93,692.38 509.79,675.22 525.64,658.47 541.50,642.03 557.36,625.42 573.21,611.46 589.07,599.45 604.93,588.87 620.78,579.47 636.64,571.00 652.49,563.65 668.35,557.22" fill="none" stroke="#a28ccc" stroke-width="1.25" stroke-linejoin="round" stroke-dasharray="4.2 1.5 1 1.5" stroke-dashoffset="0"/><polyline points="49.96,734.48 65.81,734.71 81.67,734.81 97.53,734.85 113.38,734.87 129.24,734.87 145.09,734.88 160.95,734.87 176.81,734.87 192.66,734.87 208.52,734.86 224.38,734.86 240.23,734.85 256.09,734.84 271.94,734.83 287.80,734.82 303.66,734.81 319.51,734.79 335.37,734.78 351.23,734.75 367.08,734.63 382.94,734.42 398.79,734.17 414.65,733.78 430.51,733.32 446.36,732.78 462.22,731.48 478.08,729.42 493.93,725.72 509.79,718.82 525.64,708.76 541.50,692.63 557.36,675.50 573.21,659.04 589.07,642.72 604.93,626.66 620.78,613.27 636.64,601.30 652.49,590.22 668.35,579.60" fill="none" stroke="#93bc48" stroke-width="1.25" stroke-linejoin="round" stroke-dasharray="4.2 1.5 1 1.5" stroke-dashoffset="0"/><polyline points="49.96,734.48 65.81,734.71 81.67,734.81 97.53,734.85 113.38,734.87 129.24,734.87 145.09,734.88 160.95,734.87 176.81,734.87 192.66,734.87 208.52,734.86 224.38,734.86 240.23,734.85 256.09,734.84 271.94,734.83 287.80,734.82 303.66,734.81 319.51,734.79 335.37,734.78 351.23,734.76 367.08,734.64 382.94,734.44 398.79,734.19 414.65,733.81 430.51,733.35 446.36,732.83 462.22,731.63 478.08,729.60 493.93,726.09 509.79,719.56 525.64,709.68 541.50,693.98 557.36,676.85 573.21,660.33 589.07,644.06 604.93,627.84 620.78,614.28 636.64,602.22 652.49,591.08 668.35,580.45" fill="none" stroke="#b8cf48" stroke-width="1.25" stroke-linejoin="round" stroke-dasharray="4.2 1.5 1 1.5" stroke-dashoffset="0"/><polyline points="49.96,734.48 65.81,734.71 81.67,734.81 97.53,734.85 113.38,734.87 129.24,734.88 145.09,734.88 160.95,734.88 176.81,734.88 192.66,734.88 208.52,734.88 224.38,734.87 240.23,734.87 256.09,734.87 271.94,734.86 287.80,734.86 303.66,734.85 319.51,734.84 335.37,734.83 351.23,734.82 367.08,734.81 382.94,734.80 398.79,734.79 414.65,734.76 430.51,734.64 446.36,734.45 462.22,734.23 478.08,733.88 493.93,733.49 509.79,733.02 525.64,731.89 541.50,730.04 557.36,726.25 573.21,720.38 589.07,712.60 604.93,699.67 620.78,685.19 636.64,670.71 652.49,655.82 668.35,639.88" fill="none" stroke="#f2de6c" stroke-width="1.25" stroke-linejoin="round" stroke-dasharray="4.2 1.5 1 1.5" stroke-dashoffset="0"/><polyline points="49.96,734.48 65.81,734.71 81.67,734.81 97.53,734.85 113.38,734.87 129.24,734.88 145.09,734.88 160.95,734.88 176.81,734.88 192.66,734.88 208.52,734.88 224.38,734.88 240.23,734.88 256.09,734.88 271.94,734.88 287.80,734.88 303.66,734.88 319.51,734.88 335.37,734.88 351.23,734.88 367.08,734.88 382.94,734.88 398.79,734.88 414.65,734.87 430.51,734.87 446.36,734.86 462.22,734.86 478.08,734.85 493.93,734.78 509.79,734.69 525.64,734.54 541.50,734.29 557.36,733.42 573.21,731.55 589.07,729.58 604.93,723.82 620.78,717.37 636.64,710.87 652.49,706.04 668.35,703.34" fill="none" stroke="#98d2f0" stroke-width="1.25" stroke-linejoin="round" stroke-dasharray="4.2 1.5 1 1.5" stroke-dashoffset="0"/><line x1="34.10" y1="735.00" x2="668.35" y2="735.00" stroke="#3a3ab8" stroke-width="1.1" stroke-dasharray="2.2 1.2"/><text x="35.70" y="733.50" font-family='"Liberation Sans", sans-serif' font-size="5.0" font-weight="bold" fill="#3a3ad0">0.000</text><text x="43.30" y="541.60" font-family='"Liberation Serif", serif' font-size="24" fill="#000">C</text><text x="235.80" y="704.90" font-family='"Liberation Serif", serif' font-size="18.8" fill="#000">10</text><text x="253.90" y="699.00" font-family='"Liberation Serif", serif' font-size="14" fill="#000">8</text><text x="290.40" y="704.90" font-family='"Liberation Serif", serif' font-size="18.8" fill="#000">10</text><text x="308.50" y="699.00" font-family='"Liberation Serif", serif' font-size="14" fill="#000">7</text><text x="345.60" y="704.90" font-family='"Liberation Serif", serif' font-size="18.8" fill="#000">10</text><text x="363.70" y="699.00" font-family='"Liberation Serif", serif' font-size="14" fill="#000">6</text><text x="400.60" y="704.90" font-family='"Liberation Serif", serif' font-size="18.8" fill="#000">10</text><text x="418.70" y="699.00" font-family='"Liberation Serif", serif' font-size="14" fill="#000">5</text><text x="455.20" y="704.90" font-family='"Liberation Serif", serif' font-size="18.8" fill="#000">10</text><text x="473.30" y="699.00" font-family='"Liberation Serif", serif' font-size="14" fill="#000">4</text><text x="510.00" y="704.90" font-family='"Liberation Serif", serif' font-size="18.8" fill="#000">10</text><text x="528.10" y="699.00" font-family='"Liberation Serif", serif' font-size="14" fill="#000">3</text><text x="565.10" y="704.90" font-family='"Liberation Serif", serif' font-size="18.8" fill="#000">10</text><text x="583.20" y="699.00" font-family='"Liberation Serif", serif' font-size="14" fill="#000">2</text><text x="619.90" y="704.90" font-family='"Liberation Serif", serif' font-size="18.8" fill="#000">10</text><text x="638.00" y="699.00" font-family='"Liberation Serif", serif' font-size="14" fill="#000">1</text></g>
<g id="D"><line x1="70.44" y1="771.30" x2="70.44" y2="1001.20" stroke="#eaeced" stroke-width="1"/><line x1="101.79" y1="771.30" x2="101.79" y2="1001.20" stroke="#eaeced" stroke-width="1"/><line x1="133.13" y1="771.30" x2="133.13" y2="1001.20" stroke="#eaeced" stroke-width="1"/><line x1="164.48" y1="771.30" x2="164.48" y2="1001.20" stroke="#eaeced" stroke-width="1"/><line x1="195.82" y1="771.30" x2="195.82" y2="1001.20" stroke="#eaeced" stroke-width="1"/><line x1="227.17" y1="771.30" x2="227.17" y2="1001.20" stroke="#eaeced" stroke-width="1"/><line x1="258.52" y1="771.30" x2="258.52" y2="1001.20" stroke="#eaeced" stroke-width="1"/><line x1="289.86" y1="771.30" x2="289.86" y2="1001.20" stroke="#eaeced" stroke-width="1"/><line x1="321.20" y1="771.30" x2="321.20" y2="1001.20" stroke="#eaeced" stroke-width="1"/><line x1="352.55" y1="771.30" x2="352.55" y2="1001.20" stroke="#eaeced" stroke-width="1"/><line x1="383.89" y1="771.30" x2="383.89" y2="1001.20" stroke="#eaeced" stroke-width="1"/><line x1="415.24" y1="771.30" x2="415.24" y2="1001.20" stroke="#eaeced" stroke-width="1"/><line x1="446.59" y1="771.30" x2="446.59" y2="1001.20" stroke="#eaeced" stroke-width="1"/><line x1="477.93" y1="771.30" x2="477.93" y2="1001.20" stroke="#eaeced" stroke-width="1"/><line x1="509.28" y1="771.30" x2="509.28" y2="1001.20" stroke="#eaeced" stroke-width="1"/><line x1="540.62" y1="771.30" x2="540.62" y2="1001.20" stroke="#eaeced" stroke-width="1"/><line x1="571.97" y1="771.30" x2="571.97" y2="1001.20" stroke="#eaeced" stroke-width="1"/><line x1="603.31" y1="771.30" x2="603.31" y2="1001.20" stroke="#eaeced" stroke-width="1"/><line x1="634.66" y1="771.30" x2="634.66" y2="1001.20" stroke="#eaeced" stroke-width="1"/><line x1="666.00" y1="771.30" x2="666.00" y2="1001.20" stroke="#eaeced" stroke-width="1"/><line x1="39.10" y1="997.12" x2="666.00" y2="997.12" stroke="#eaeced" stroke-width="1"/><line x1="39.10" y1="985.45" x2="666.00" y2="985.45" stroke="#eaeced" stroke-width="1"/><line x1="39.10" y1="973.79" x2="666.00" y2="973.79" stroke="#eaeced" stroke-width="1"/><line x1="39.10" y1="962.13" x2="666.00" y2="962.13" stroke="#eaeced" stroke-width="1"/><line x1="39.10" y1="950.46" x2="666.00" y2="950.46" stroke="#eaeced" stroke-width="1"/><line x1="39.10" y1="938.80" x2="666.00" y2="938.80" stroke="#eaeced" stroke-width="1"/><line x1="39.10" y1="927.13" x2="666.00" y2="927.13" stroke="#eaeced" stroke-width="1"/><line x1="39.10" y1="915.47" x2="666.00" y2="915.47" stroke="#eaeced" stroke-width="1"/><line x1="39.10" y1="903.80" x2="666.00" y2="903.80" stroke="#eaeced" stroke-width="1"/><line x1="39.10" y1="892.14" x2="666.00" y2="892.14" stroke="#eaeced" stroke-width="1"/><line x1="39.10" y1="880.48" x2="666.00" y2="880.48" stroke="#eaeced" stroke-width="1"/><line x1="39.10" y1="868.81" x2="666.00" y2="868.81" stroke="#eaeced" stroke-width="1"/><line x1="39.10" y1="857.15" x2="666.00" y2="857.15" stroke="#eaeced" stroke-width="1"/><line x1="39.10" y1="845.48" x2="666.00" y2="845.48" stroke="#eaeced" stroke-width="1"/><line x1="39.10" y1="833.82" x2="666.00" y2="833.82" stroke="#eaeced" stroke-width="1"/><line x1="39.10" y1="822.16" x2="666.00" y2="822.16" stroke="#eaeced" stroke-width="1"/><line x1="39.10" y1="810.49" x2="666.00" y2="810.49" stroke="#eaeced" stroke-width="1"/><line x1="39.10" y1="798.83" x2="666.00" y2="798.83" stroke="#eaeced" stroke-width="1"/><line x1="39.10" y1="787.16" x2="666.00" y2="787.16" stroke="#eaeced" stroke-width="1"/><line x1="39.10" y1="775.50" x2="666.00" y2="775.50" stroke="#eaeced" stroke-width="1"/><line x1="39.10" y1="771.30" x2="666.00" y2="771.30" stroke="#eaeced" stroke-width="1"/><line x1="666.00" y1="771.30" x2="666.00" y2="1001.20" stroke="#eaeced" stroke-width="1"/><line x1="39.10" y1="1001.20" x2="666.00" y2="1001.20" stroke="#cfd3d6" stroke-width="1"/><line x1="39.10" y1="771.30" x2="39.10" y2="1001.20" stroke="#cfd3d6" stroke-width="1"/><line x1="37.50" y1="997.12" x2="39.10" y2="997.12" stroke="#cfd3d6" stroke-width="0.8"/><line x1="37.50" y1="994.78" x2="39.10" y2="994.78" stroke="#cfd3d6" stroke-width="0.8"/><line x1="37.50" y1="992.45" x2="39.10" y2="992.45" stroke="#cfd3d6" stroke-width="0.8"/><line x1="37.50" y1="990.12" x2="39.10" y2="990.12" stroke="#cfd3d6" stroke-width="0.8"/><line x1="37.50" y1="987.79" x2="39.10" y2="987.79" stroke="#cfd3d6" stroke-width="0.8"/><line x1="37.50" y1="985.45" x2="39.10" y2="985.45" stroke="#cfd3d6" stroke-width="0.8"/><line x1="37.50" y1="983.12" x2="39.10" y2="983.12" stroke="#cfd3d6" stroke-width="0.8"/><line x1="37.50" y1="980.79" x2="39.10" y2="980.79" stroke="#cfd3d6" stroke-width="0.8"/><line x1="37.50" y1="978.45" x2="39.10" y2="978.45" stroke="#cfd3d6" stroke-width="0.8"/><line x1="37.50" y1="976.12" x2="39.10" y2="976.12" stroke="#cfd3d6" stroke-width="0.8"/><line x1="37.50" y1="973.79" x2="39.10" y2="973.79" stroke="#cfd3d6" stroke-width="0.8"/><line x1="37.50" y1="971.46" x2="39.10" y2="971.46" stroke="#cfd3d6" stroke-width="0.8"/><line x1="37.50" y1="969.12" x2="39.10" y2="969.12" stroke="#cfd3d6" stroke-width="0.8"/><line x1="37.50" y1="966.79" x2="39.10" y2="966.79" stroke="#cfd3d6" stroke-width="0.8"/><line x1="37.50" y1="964.46" x2="39.10" y2="964.46" stroke="#cfd3d6" stroke-width="0.8"/><line x1="37.50" y1="962.13" x2="39.10" y2="962.13" stroke="#cfd3d6" stroke-width="0.8"/><line x1="37.50" y1="959.79" x2="39.10" y2="959.79" stroke="#cfd3d6" stroke-width="0.8"/><line x1="37.50" y1="957.46" x2="39.10" y2="957.46" stroke="#cfd3d6" stroke-width="0.8"/><line x1="37.50" y1="955.13" x2="39.10" y2="955.13" stroke="#cfd3d6" stroke-width="0.8"/><line x1="37.50" y1="952.79" x2="39.10" y2="952.79" stroke="#cfd3d6" stroke-width="0.8"/><line x1="37.50" y1="950.46" x2="39.10" y2="950.46" stroke="#cfd3d6" stroke-width="0.8"/><line x1="37.50" y1="948.13" x2="39.10" y2="948.13" stroke="#cfd3d6" stroke-width="0.8"/><line x1="37.50" y1="945.80" x2="39.10" y2="945.80" stroke="#cfd3d6" stroke-width="0.8"/><line x1="37.50" y1="943.46" x2="39.10" y2="943.46" stroke="#cfd3d6" stroke-width="0.8"/><line x1="37.50" y1="941.13" x2="39.10" y2="941.13" stroke="#cfd3d6" stroke-width="0.8"/><line x1="37.50" y1="938.80" x2="39.10" y2="938.80" stroke="#cfd3d6" stroke-width="0.8"/><line x1="37.50" y1="936.46" x2="39.10" y2="936.46" stroke="#cfd3d6" stroke-width="0.8"/><line x1="37.50" y1="934.13" x2="39.10" y2="934.13" stroke="#cfd3d6" stroke-width="0.8"/><line x1="37.50" y1="931.80" x2="39.10" y2="931.80" stroke="#cfd3d6" stroke-width="0.8"/><line x1="37.50" y1="929.47" x2="39.10" y2="929.47" stroke="#cfd3d6" stroke-width="0.8"/><line x1="37.50" y1="927.13" x2="39.10" y2="927.13" stroke="#cfd3d6" stroke-width="0.8"/><line x1="37.50" y1="924.80" x2="39.10" y2="924.80" stroke="#cfd3d6" stroke-width="0.8"/><line x1="37.50" y1="922.47" x2="39.10" y2="922.47" stroke="#cfd3d6" stroke-width="0.8"/><line x1="37.50" y1="920.13" x2="39.10" y2="920.13" stroke="#cfd3d6" stroke-width="0.8"/><line x1="37.50" y1="917.80" x2="39.10" y2="917.80" stroke="#cfd3d6" stroke-width="0.8"/><line x1="37.50" y1="915.47" x2="39.10" y2="915.47" stroke="#cfd3d6" stroke-width="0.8"/><line x1="37.50" y1="913.14" x2="39.10" y2="913.14" stroke="#cfd3d6" stroke-width="0.8"/><line x1="37.50" y1="910.80" x2="39.10" y2="910.80" stroke="#cfd3d6" stroke-width="0.8"/><line x1="37.50" y1="908.47" x2="39.10" y2="908.47" stroke="#cfd3d6" stroke-width="0.8"/><line x1="37.50" y1="906.14" x2="39.10" y2="906.14" stroke="#cfd3d6" stroke-width="0.8"/><line x1="37.50" y1="903.80" x2="39.10" y2="903.80" stroke="#cfd3d6" stroke-width="0.8"/><line x1="37.50" y1="901.47" x2="39.10" y2="901.47" stroke="#cfd3d6" stroke-width="0.8"/><line x1="37.50" y1="899.14" x2="39.10" y2="899.14" stroke="#cfd3d6" stroke-width="0.8"/><line x1="37.50" y1="896.81" x2="39.10" y2="896.81" stroke="#cfd3d6" stroke-width="0.8"/><line x1="37.50" y1="894.47" x2="39.10" y2="894.47" stroke="#cfd3d6" stroke-width="0.8"/><line x1="37.50" y1="892.14" x2="39.10" y2="892.14" stroke="#cfd3d6" stroke-width="0.8"/><line x1="37.50" y1="889.81" x2="39.10" y2="889.81" stroke="#cfd3d6" stroke-width="0.8"/><line x1="37.50" y1="887.47" x2="39.10" y2="887.47" stroke="#cfd3d6" stroke-width="0.8"/><line x1="37.50" y1="885.14" x2="39.10" y2="885.14" stroke="#cfd3d6" stroke-width="0.8"/><line x1="37.50" y1="882.81" x2="39.10" y2="882.81" stroke="#cfd3d6" stroke-width="0.8"/><line x1="37.50" y1="880.48" x2="39.10" y2="880.48" stroke="#cfd3d6" stroke-width="0.8"/><line x1="37.50" y1="878.14" x2="39.10" y2="878.14" stroke="#cfd3d6" stroke-width="0.8"/><line x1="37.50" y1="875.81" x2="39.10" y2="875.81" stroke="#cfd3d6" stroke-width="0.8"/><line x1="37.50" y1="873.48" x2="39.10" y2="873.48" stroke="#cfd3d6" stroke-width="0.8"/><line x1="37.50" y1="871.14" x2="39.10" y2="871.14" stroke="#cfd3d6" stroke-width="0.8"/><line x1="37.50" y1="868.81" x2="39.10" y2="868.81" stroke="#cfd3d6" stroke-width="0.8"/><line x1="37.50" y1="866.48" x2="39.10" y2="866.48" stroke="#cfd3d6" stroke-width="0.8"/><line x1="37.50" y1="864.15" x2="39.10" y2="864.15" stroke="#cfd3d6" stroke-width="0.8"/><line x1="37.50" y1="861.81" x2="39.10" y2="861.81" stroke="#cfd3d6" stroke-width="0.8"/><line x1="37.50" y1="859.48" x2="39.10" y2="859.48" stroke="#cfd3d6" stroke-width="0.8"/><line x1="37.50" y1="857.15" x2="39.10" y2="857.15" stroke="#cfd3d6" stroke-width="0.8"/><line x1="37.50" y1="854.82" x2="39.10" y2="854.82" stroke="#cfd3d6" stroke-width="0.8"/><line x1="37.50" y1="852.48" x2="39.10" y2="852.48" stroke="#cfd3d6" stroke-width="0.8"/><line x1="37.50" y1="850.15" x2="39.10" y2="850.15" stroke="#cfd3d6" stroke-width="0.8"/><line x1="37.50" y1="847.82" x2="39.10" y2="847.82" stroke="#cfd3d6" stroke-width="0.8"/><line x1="37.50" y1="845.48" x2="39.10" y2="845.48" stroke="#cfd3d6" stroke-width="0.8"/><line x1="37.50" y1="843.15" x2="39.10" y2="843.15" stroke="#cfd3d6" stroke-width="0.8"/><line x1="37.50" y1="840.82" x2="39.10" y2="840.82" stroke="#cfd3d6" stroke-width="0.8"/><line x1="37.50" y1="838.49" x2="39.10" y2="838.49" stroke="#cfd3d6" stroke-width="0.8"/><line x1="37.50" y1="836.15" x2="39.10" y2="836.15" stroke="#cfd3d6" stroke-width="0.8"/><line x1="37.50" y1="833.82" x2="39.10" y2="833.82" stroke="#cfd3d6" stroke-width="0.8"/><line x1="37.50" y1="831.49" x2="39.10" y2="831.49" stroke="#cfd3d6" stroke-width="0.8"/><line x1="37.50" y1="829.15" x2="39.10" y2="829.15" stroke="#cfd3d6" stroke-width="0.8"/><line x1="37.50" y1="826.82" x2="39.10" y2="826.82" stroke="#cfd3d6" stroke-width="0.8"/><line x1="37.50" y1="824.49" x2="39.10" y2="824.49" stroke="#cfd3d6" stroke-width="0.8"/><line x1="37.50" y1="822.16" x2="39.10" y2="822.16" stroke="#cfd3d6" stroke-width="0.8"/><line x1="37.50" y1="819.82" x2="39.10" y2="819.82" stroke="#cfd3d6" stroke-width="0.8"/><line x1="37.50" y1="817.49" x2="39.10" y2="817.49" stroke="#cfd3d6" stroke-width="0.8"/><line x1="37.50" y1="815.16" x2="39.10" y2="815.16" stroke="#cfd3d6" stroke-width="0.8"/><line x1="37.50" y1="812.82" x2="39.10" y2="812.82" stroke="#cfd3d6" stroke-width="0.8"/><line x1="37.50" y1="810.49" x2="39.10" y2="810.49" stroke="#cfd3d6" stroke-width="0.8"/><line x1="37.50" y1="808.16" x2="39.10" y2="808.16" stroke="#cfd3d6" stroke-width="0.8"/><line x1="37.50" y1="805.83" x2="39.10" y2="805.83" stroke="#cfd3d6" stroke-width="0.8"/><line x1="37.50" y1="803.49" x2="39.10" y2="803.49" stroke="#cfd3d6" stroke-width="0.8"/><line x1="37.50" y1="801.16" x2="39.10" y2="801.16" stroke="#cfd3d6" stroke-width="0.8"/><line x1="37.50" y1="798.83" x2="39.10" y2="798.83" stroke="#cfd3d6" stroke-width="0.8"/><line x1="37.50" y1="796.49" x2="39.10" y2="796.49" stroke="#cfd3d6" stroke-width="0.8"/><line x1="37.50" y1="794.16" x2="39.10" y2="794.16" stroke="#cfd3d6" stroke-width="0.8"/><line x1="37.50" y1="791.83" x2="39.10" y2="791.83" stroke="#cfd3d6" stroke-width="0.8"/><line x1="37.50" y1="789.50" x2="39.10" y2="789.50" stroke="#cfd3d6" stroke-width="0.8"/><line x1="37.50" y1="787.16" x2="39.10" y2="787.16" stroke="#cfd3d6" stroke-width="0.8"/><line x1="37.50" y1="784.83" x2="39.10" y2="784.83" stroke="#cfd3d6" stroke-width="0.8"/><line x1="37.50" y1="782.50" x2="39.10" y2="782.50" stroke="#cfd3d6" stroke-width="0.8"/><line x1="37.50" y1="780.16" x2="39.10" y2="780.16" stroke="#cfd3d6" stroke-width="0.8"/><line x1="37.50" y1="777.83" x2="39.10" y2="777.83" stroke="#cfd3d6" stroke-width="0.8"/><line x1="37.50" y1="775.50" x2="39.10" y2="775.50" stroke="#cfd3d6" stroke-width="0.8"/><line x1="37.50" y1="773.17" x2="39.10" y2="773.17" stroke="#cfd3d6" stroke-width="0.8"/><line x1="54.77" y1="1001.20" x2="54.77" y2="1002.80" stroke="#cfd3d6" stroke-width="0.8"/><line x1="86.12" y1="1001.20" x2="86.12" y2="1002.80" stroke="#cfd3d6" stroke-width="0.8"/><line x1="117.46" y1="1001.20" x2="117.46" y2="1002.80" stroke="#cfd3d6" stroke-width="0.8"/><line x1="148.81" y1="1001.20" x2="148.81" y2="1002.80" stroke="#cfd3d6" stroke-width="0.8"/><line x1="180.15" y1="1001.20" x2="180.15" y2="1002.80" stroke="#cfd3d6" stroke-width="0.8"/><line x1="211.50" y1="1001.20" x2="211.50" y2="1002.80" stroke="#cfd3d6" stroke-width="0.8"/><line x1="242.84" y1="1001.20" x2="242.84" y2="1002.80" stroke="#cfd3d6" stroke-width="0.8"/><line x1="274.19" y1="1001.20" x2="274.19" y2="1002.80" stroke="#cfd3d6" stroke-width="0.8"/><line x1="305.53" y1="1001.20" x2="305.53" y2="1002.80" stroke="#cfd3d6" stroke-width="0.8"/><line x1="336.88" y1="1001.20" x2="336.88" y2="1002.80" stroke="#cfd3d6" stroke-width="0.8"/><line x1="368.22" y1="1001.20" x2="368.22" y2="1002.80" stroke="#cfd3d6" stroke-width="0.8"/><line x1="399.57" y1="1001.20" x2="399.57" y2="1002.80" stroke="#cfd3d6" stroke-width="0.8"/><line x1="430.91" y1="1001.20" x2="430.91" y2="1002.80" stroke="#cfd3d6" stroke-width="0.8"/><line x1="462.26" y1="1001.20" x2="462.26" y2="1002.80" stroke="#cfd3d6" stroke-width="0.8"/><line x1="493.60" y1="1001.20" x2="493.60" y2="1002.80" stroke="#cfd3d6" stroke-width="0.8"/><line x1="524.95" y1="1001.20" x2="524.95" y2="1002.80" stroke="#cfd3d6" stroke-width="0.8"/><line x1="556.29" y1="1001.20" x2="556.29" y2="1002.80" stroke="#cfd3d6" stroke-width="0.8"/><line x1="587.64" y1="1001.20" x2="587.64" y2="1002.80" stroke="#cfd3d6" stroke-width="0.8"/><line x1="618.98" y1="1001.20" x2="618.98" y2="1002.80" stroke="#cfd3d6" stroke-width="0.8"/><line x1="650.33" y1="1001.20" x2="650.33" y2="1002.80" stroke="#cfd3d6" stroke-width="0.8"/><text x="33.80" y="999.32" text-anchor="end" font-family='"Liberation Sans", sans-serif' font-size="6.49" fill="#454552" stroke="#454552" stroke-width="0.28">0.000</text><text x="33.80" y="987.65" text-anchor="end" font-family='"Liberation Sans", sans-serif' font-size="6.49" fill="#454552" stroke="#454552" stroke-width="0.28">0.300</text><text x="33.80" y="975.99" text-anchor="end" font-family='"Liberation Sans", sans-serif' font-size="6.49" fill="#454552" stroke="#454552" stroke-width="0.28">0.600</text><text x="33.80" y="964.33" text-anchor="end" font-family='"Liberation Sans", sans-serif' font-size="6.49" fill="#454552" stroke="#454552" stroke-width="0.28">0.900</text><text x="33.80" y="952.66" text-anchor="end" font-family='"Liberation Sans", sans-serif' font-size="6.49" fill="#454552" stroke="#454552" stroke-width="0.28">1.200</text><text x="33.80" y="941.00" text-anchor="end" font-family='"Liberation Sans", sans-serif' font-size="6.49" fill="#454552" stroke="#454552" stroke-width="0.28">1.500</text><text x="33.80" y="929.33" text-anchor="end" font-family='"Liberation Sans", sans-serif' font-size="6.49" fill="#454552" stroke="#454552" stroke-width="0.28">1.800</text><text x="33.80" y="917.67" text-anchor="end" font-family='"Liberation Sans", sans-serif' font-size="6.49" fill="#454552" stroke="#454552" stroke-width="0.28">2.100</text><text x="33.80" y="906.00" text-anchor="end" font-family='"Liberation Sans", sans-serif' font-size="6.49" fill="#454552" stroke="#454552" stroke-width="0.28">2.400</text><text x="33.80" y="894.34" text-anchor="end" font-family='"Liberation Sans", sans-serif' font-size="6.49" fill="#454552" stroke="#454552" stroke-width="0.28">2.700</text><text x="33.80" y="882.68" text-anchor="end" font-family='"Liberation Sans", sans-serif' font-size="6.49" fill="#454552" stroke="#454552" stroke-width="0.28">3.000</text><text x="33.80" y="871.01" text-anchor="end" font-family='"Liberation Sans", sans-serif' font-size="6.49" fill="#454552" stroke="#454552" stroke-width="0.28">3.300</text><text x="33.80" y="859.35" text-anchor="end" font-family='"Liberation Sans", sans-serif' font-size="6.49" fill="#454552" stroke="#454552" stroke-width="0.28">3.600</text><text x="33.80" y="847.68" text-anchor="end" font-family='"Liberation Sans", sans-serif' font-size="6.49" fill="#454552" stroke="#454552" stroke-width="0.28">3.900</text><text x="33.80" y="836.02" text-anchor="end" font-family='"Liberation Sans", sans-serif' font-size="6.49" fill="#454552" stroke="#454552" stroke-width="0.28">4.200</text><text x="33.80" y="824.36" text-anchor="end" font-family='"Liberation Sans", sans-serif' font-size="6.49" fill="#454552" stroke="#454552" stroke-width="0.28">4.500</text><text x="33.80" y="812.69" text-anchor="end" font-family='"Liberation Sans", sans-serif' font-size="6.49" fill="#454552" stroke="#454552" stroke-width="0.28">4.800</text><text x="33.80" y="801.03" text-anchor="end" font-family='"Liberation Sans", sans-serif' font-size="6.49" fill="#454552" stroke="#454552" stroke-width="0.28">5.100</text><text x="33.80" y="789.36" text-anchor="end" font-family='"Liberation Sans", sans-serif' font-size="6.49" fill="#454552" stroke="#454552" stroke-width="0.28">5.400</text><text x="33.80" y="777.70" text-anchor="end" font-family='"Liberation Sans", sans-serif' font-size="6.49" fill="#454552" stroke="#454552" stroke-width="0.28">5.700</text><text x="39.10" y="1010.50" text-anchor="middle" font-family='"Liberation Sans", sans-serif' font-size="6.49" fill="#454552" stroke="#454552" stroke-width="0.28">0.00</text><text x="70.44" y="1010.50" text-anchor="middle" font-family='"Liberation Sans", sans-serif' font-size="6.49" fill="#454552" stroke="#454552" stroke-width="0.28">2.00</text><text x="101.79" y="1010.50" text-anchor="middle" font-family='"Liberation Sans", sans-serif' font-size="6.49" fill="#454552" stroke="#454552" stroke-width="0.28">4.00</text><text x="133.13" y="1010.50" text-anchor="middle" font-family='"Liberation Sans", sans-serif' font-size="6.49" fill="#454552" stroke="#454552" stroke-width="0.28">6.00</text><text x="164.48" y="1010.50" text-anchor="middle" font-family='"Liberation Sans", sans-serif' font-size="6.49" fill="#454552" stroke="#454552" stroke-width="0.28">8.00</text><text x="195.82" y="1010.50" text-anchor="middle" font-family='"Liberation Sans", sans-serif' font-size="6.49" fill="#454552" stroke="#454552" stroke-width="0.28">10.00</text><text x="227.17" y="1010.50" text-anchor="middle" font-family='"Liberation Sans", sans-serif' font-size="6.49" fill="#454552" stroke="#454552" stroke-width="0.28">12.00</text><text x="258.52" y="1010.50" text-anchor="middle" font-family='"Liberation Sans", sans-serif' font-size="6.49" fill="#454552" stroke="#454552" stroke-width="0.28">14.00</text><text x="289.86" y="1010.50" text-anchor="middle" font-family='"Liberation Sans", sans-serif' font-size="6.49" fill="#454552" stroke="#454552" stroke-width="0.28">16.00</text><text x="321.20" y="1010.50" text-anchor="middle" font-family='"Liberation Sans", sans-serif' font-size="6.49" fill="#454552" stroke="#454552" stroke-width="0.28">18.00</text><text x="352.55" y="1010.50" text-anchor="middle" font-family='"Liberation Sans", sans-serif' font-size="6.49" fill="#454552" stroke="#454552" stroke-width="0.28">20.00</text><text x="383.89" y="1010.50" text-anchor="middle" font-family='"Liberation Sans", sans-serif' font-size="6.49" fill="#454552" stroke="#454552" stroke-width="0.28">22.00</text><text x="415.24" y="1010.50" text-anchor="middle" font-family='"Liberation Sans", sans-serif' font-size="6.49" fill="#454552" stroke="#454552" stroke-width="0.28">24.00</text><text x="446.59" y="1010.50" text-anchor="middle" font-family='"Liberation Sans", sans-serif' font-size="6.49" fill="#454552" stroke="#454552" stroke-width="0.28">26.00</text><text x="477.93" y="1010.50" text-anchor="middle" font-family='"Liberation Sans", sans-serif' font-size="6.49" fill="#454552" stroke="#454552" stroke-width="0.28">28.00</text><text x="509.28" y="1010.50" text-anchor="middle" font-family='"Liberation Sans", sans-serif' font-size="6.49" fill="#454552" stroke="#454552" stroke-width="0.28">30.00</text><text x="540.62" y="1010.50" text-anchor="middle" font-family='"Liberation Sans", sans-serif' font-size="6.49" fill="#454552" stroke="#454552" stroke-width="0.28">32.00</text><text x="571.97" y="1010.50" text-anchor="middle" font-family='"Liberation Sans", sans-serif' font-size="6.49" fill="#454552" stroke="#454552" stroke-width="0.28">34.00</text><text x="603.31" y="1010.50" text-anchor="middle" font-family='"Liberation Sans", sans-serif' font-size="6.49" fill="#454552" stroke="#454552" stroke-width="0.28">36.00</text><text x="634.66" y="1010.50" text-anchor="middle" font-family='"Liberation Sans", sans-serif' font-size="6.49" fill="#454552" stroke="#454552" stroke-width="0.28">38.00</text><text x="666.00" y="1010.50" text-anchor="middle" font-family='"Liberation Sans", sans-serif' font-size="6.49" fill="#454552" stroke="#454552" stroke-width="0.28">40.00</text><text x="352.55" y="1017.55" text-anchor="middle" font-family='"Liberation Sans", sans-serif' font-size="5.94" fill="#454552" stroke="#454552" stroke-width="0.15">Cycle</text><text x="0" y="0" transform="translate(12.30,886.20) rotate(-90)" text-anchor="middle" font-family='"Liberation Sans", sans-serif' font-size="5.61" fill="#454552" stroke="#454552" stroke-width="0.15">Fluorescence</text><polyline points="54.77,996.24 70.44,996.60 86.12,996.75 101.79,996.80 117.46,996.81 133.13,996.80 148.81,996.76 164.48,996.69 180.15,996.61 195.82,996.47 211.50,996.05 227.17,995.23 242.84,993.54 258.52,990.88 274.19,986.34 289.86,979.46 305.53,970.64 321.20,959.89 336.88,946.04 352.55,930.95 368.22,914.96 383.89,899.46 399.57,885.97 415.24,873.73 430.91,862.58 446.59,852.30 462.26,842.59 477.93,833.60 493.60,825.47 509.28,818.01 524.95,811.01 540.62,804.74 556.29,799.50 571.97,794.97 587.64,791.02 603.31,787.55 618.98,784.49 634.66,781.70 650.33,778.74 666.00,776.57" fill="none" stroke="#7f8dcc" stroke-width="1.6" stroke-linejoin="round" stroke-dasharray="5.5 1.7" stroke-dashoffset="0"/><polyline points="54.77,996.24 70.44,996.60 86.12,996.75 101.79,996.80 117.46,996.81 133.13,996.80 148.81,996.75 164.48,996.69 180.15,996.60 195.82,996.45 211.50,996.00 227.17,995.15 242.84,993.38 258.52,990.63 274.19,985.92 289.86,978.88 305.53,969.90 321.20,958.96 336.88,944.92 352.55,929.74 368.22,913.66 383.89,898.27 399.57,884.85 415.24,872.66 430.91,861.57 446.59,851.31 462.26,841.62 477.93,832.68 493.60,824.58 509.28,817.15 524.95,810.17 540.62,803.96 556.29,798.77 571.97,794.27 587.64,790.35 603.31,786.90 618.98,783.86 634.66,781.08 650.33,778.10 666.00,776.06" fill="none" stroke="#c9506e" stroke-width="1.6" stroke-linejoin="round" stroke-dasharray="5.5 1.7" stroke-dashoffset="0"/><polyline points="54.77,996.25 70.44,996.62 86.12,996.78 101.79,996.85 117.46,996.87 133.13,996.88 148.81,996.87 164.48,996.85 180.15,996.83 195.82,996.80 211.50,996.75 227.17,996.67 242.84,996.57 258.52,996.37 274.19,995.78 289.86,994.72 305.53,992.58 321.20,989.16 336.88,983.49 352.55,975.60 368.22,965.84 383.89,953.46 399.57,938.56 415.24,922.74 430.91,906.39 446.59,891.85 462.26,878.86 477.93,867.05 493.60,856.25 509.28,846.12 524.95,836.64 540.62,828.07 556.29,820.26 571.97,813.01 587.64,806.38 603.31,800.87 618.98,796.18 634.66,792.16 650.33,788.69 666.00,785.66" fill="none" stroke="#8aa870" stroke-width="1.6" stroke-linejoin="round" stroke-dasharray="5.5 1.7" stroke-dashoffset="0"/><polyline points="54.77,996.25 70.44,996.62 86.12,996.78 101.79,996.85 117.46,996.87 133.13,996.88 148.81,996.87 164.48,996.85 180.15,996.82 195.82,996.80 211.50,996.74 227.17,996.66 242.84,996.56 258.52,996.36 274.19,995.75 289.86,994.67 305.53,992.52 321.20,989.08 336.88,983.38 352.55,975.47 368.22,965.71 383.89,953.38 399.57,938.53 415.24,922.77 430.91,906.46 446.59,891.91 462.26,878.93 477.93,867.12 493.60,856.33 509.28,846.22 524.95,836.73 540.62,828.13 556.29,820.30 571.97,813.04 587.64,806.34 603.31,800.73 618.98,795.95 634.66,791.83 650.33,788.26 666.00,785.13" fill="none" stroke="#c07aa8" stroke-width="1.6" stroke-linejoin="round" stroke-dasharray="5.5 1.7" stroke-dashoffset="0"/><polyline points="54.77,996.25 70.44,996.63 86.12,996.79 101.79,996.86 117.46,996.89 133.13,996.90 148.81,996.90 164.48,996.90 180.15,996.89 195.82,996.88 211.50,996.87 227.17,996.84 242.84,996.82 258.52,996.78 274.19,996.71 289.86,996.62 305.53,996.48 321.20,996.05 336.88,995.18 352.55,993.34 368.22,990.44 383.89,985.30 399.57,977.45 415.24,967.45 430.91,955.08 446.59,940.07 462.26,924.20 477.93,907.91 493.60,893.59 509.28,880.89 524.95,869.41 540.62,858.93 556.29,849.07 571.97,839.88 587.64,831.53 603.31,823.81 618.98,816.44 634.66,809.78 650.33,803.99 666.00,798.73" fill="none" stroke="#f1b460" stroke-width="1.6" stroke-linejoin="round" stroke-dasharray="5.5 1.7" stroke-dashoffset="0"/><polyline points="54.77,996.25 70.44,996.63 86.12,996.79 101.79,996.86 117.46,996.89 133.13,996.90 148.81,996.90 164.48,996.90 180.15,996.89 195.82,996.88 211.50,996.86 227.17,996.84 242.84,996.82 258.52,996.78 274.19,996.71 289.86,996.62 305.53,996.47 321.20,996.01 336.88,995.12 352.55,993.23 368.22,990.24 383.89,984.97 399.57,977.00 415.24,966.91 430.91,954.36 446.59,939.29 462.26,923.38 477.93,907.13 493.60,892.92 509.28,880.28 524.95,868.87 540.62,858.43 556.29,848.59 571.97,839.45 587.64,831.13 603.31,823.44 618.98,816.09 634.66,809.48 650.33,803.71 666.00,798.48" fill="none" stroke="#f6d660" stroke-width="1.6" stroke-linejoin="round" stroke-dasharray="5.5 1.7" stroke-dashoffset="0"/><polyline points="54.77,996.26 70.44,996.63 86.12,996.80 101.79,996.87 117.46,996.90 133.13,996.91 148.81,996.91 164.48,996.91 180.15,996.91 195.82,996.91 211.50,996.91 227.17,996.91 242.84,996.91 258.52,996.90 274.19,996.90 289.86,996.88 305.53,996.86 321.20,996.84 336.88,996.80 352.55,996.74 368.22,996.64 383.89,996.49 399.57,995.91 415.24,994.64 430.91,991.90 446.59,986.95 462.26,979.25 477.93,968.86 493.60,954.62 509.28,937.33 524.95,918.69 540.62,901.13 556.29,885.93 571.97,872.39 587.64,860.25 603.31,849.11 618.98,839.33 634.66,830.94 650.33,823.65 666.00,817.84" fill="none" stroke="#4fc4aa" stroke-width="1.6" stroke-linejoin="round" stroke-dasharray="5.5 1.7" stroke-dashoffset="0"/><polyline points="54.77,996.26 70.44,996.63 86.12,996.80 101.79,996.87 117.46,996.89 133.13,996.91 148.81,996.91 164.48,996.91 180.15,996.91 195.82,996.91 211.50,996.91 227.17,996.91 242.84,996.90 258.52,996.90 274.19,996.89 289.86,996.87 305.53,996.85 321.20,996.82 336.88,996.77 352.55,996.70 368.22,996.59 383.89,996.38 399.57,995.67 415.24,994.19 430.91,991.33 446.59,986.27 462.26,978.54 477.93,968.29 493.60,954.64 509.28,937.79 524.95,919.67 540.62,901.76 556.29,886.33 571.97,872.52 587.64,860.15 603.31,848.81 618.98,838.48 634.66,829.50 650.33,821.68 666.00,814.78" fill="none" stroke="#7a9088" stroke-width="1.6" stroke-linejoin="round" stroke-dasharray="5.5 1.7" stroke-dashoffset="0"/><polyline points="54.77,996.26 70.44,996.64 86.12,996.80 101.79,996.87 117.46,996.90 133.13,996.91 148.81,996.92 164.48,996.92 180.15,996.92 195.82,996.92 211.50,996.92 227.17,996.91 242.84,996.91 258.52,996.91 274.19,996.91 289.86,996.91 305.53,996.90 321.20,996.89 336.88,996.87 352.55,996.85 368.22,996.83 383.89,996.79 399.57,996.71 415.24,996.62 430.91,996.41 446.59,995.75 462.26,994.37 477.93,991.90 493.60,987.08 509.28,978.82 524.95,968.37 540.62,955.22 556.29,939.59 571.97,923.00 587.64,906.94 603.31,893.10 618.98,880.55 634.66,868.95 650.33,857.73 666.00,846.80" fill="none" stroke="#9080c4" stroke-width="1.6" stroke-linejoin="round" stroke-dasharray="5.5 1.7" stroke-dashoffset="0"/><polyline points="54.77,996.26 70.44,996.64 86.12,996.80 101.79,996.87 117.46,996.90 133.13,996.91 148.81,996.92 164.48,996.92 180.15,996.92 195.82,996.92 211.50,996.92 227.17,996.91 242.84,996.91 258.52,996.91 274.19,996.91 289.86,996.91 305.53,996.90 321.20,996.89 336.88,996.88 352.55,996.85 368.22,996.83 383.89,996.79 399.57,996.72 415.24,996.63 430.91,996.44 446.59,995.82 462.26,994.53 477.93,992.15 493.60,987.58 509.28,979.58 524.95,969.28 540.62,956.43 556.29,940.87 571.97,924.36 587.64,908.11 603.31,894.15 618.98,881.51 634.66,869.86 650.33,858.62 666.00,847.66" fill="none" stroke="#a28ccc" stroke-width="1.6" stroke-linejoin="round" stroke-dasharray="5.5 1.7" stroke-dashoffset="0"/><polyline points="54.77,996.26 70.44,996.64 86.12,996.80 101.79,996.87 117.46,996.90 133.13,996.91 148.81,996.91 164.48,996.92 180.15,996.92 195.82,996.92 211.50,996.91 227.17,996.91 242.84,996.91 258.52,996.91 274.19,996.91 289.86,996.91 305.53,996.90 321.20,996.90 336.88,996.89 352.55,996.88 368.22,996.86 383.89,996.83 399.57,996.81 415.24,996.76 430.91,996.68 446.59,996.59 462.26,996.44 477.93,995.94 493.60,995.03 509.28,993.20 524.95,990.08 540.62,984.34 556.29,976.28 571.97,966.53 587.64,954.61 603.31,939.72 618.98,923.80 634.66,906.93 650.33,891.37 666.00,877.34" fill="none" stroke="#93bc48" stroke-width="1.6" stroke-linejoin="round" stroke-dasharray="5.5 1.7" stroke-dashoffset="0"/><polyline points="54.77,996.26 70.44,996.64 86.12,996.80 101.79,996.87 117.46,996.90 133.13,996.91 148.81,996.91 164.48,996.92 180.15,996.92 195.82,996.92 211.50,996.91 227.17,996.91 242.84,996.91 258.52,996.91 274.19,996.91 289.86,996.91 305.53,996.90 321.20,996.90 336.88,996.89 352.55,996.88 368.22,996.86 383.89,996.83 399.57,996.81 415.24,996.76 430.91,996.69 446.59,996.60 462.26,996.45 477.93,996.00 493.60,995.12 509.28,993.38 524.95,990.41 540.62,984.90 556.29,976.98 571.97,967.37 587.64,955.71 603.31,940.95 618.98,925.12 634.66,908.27 650.33,892.54 666.00,878.38" fill="none" stroke="#b8cf48" stroke-width="1.6" stroke-linejoin="round" stroke-dasharray="5.5 1.7" stroke-dashoffset="0"/><polyline points="54.77,996.25 70.44,996.62 86.12,996.79 101.79,996.85 117.46,996.88 133.13,996.89 148.81,996.90 164.48,996.90 180.15,996.90 195.82,996.89 211.50,996.89 227.17,996.89 242.84,996.89 258.52,996.88 274.19,996.88 289.86,996.87 305.53,996.87 321.20,996.85 336.88,996.83 352.55,996.81 368.22,996.77 383.89,996.74 399.57,996.70 415.24,996.65 430.91,996.59 446.59,996.50 462.26,996.38 477.93,996.24 493.60,996.07 509.28,995.80 524.95,995.21 540.62,994.19 556.29,992.31 571.97,988.87 587.64,985.00 603.31,979.89 618.98,972.19 634.66,961.62 650.33,948.18 666.00,931.88" fill="none" stroke="#f2de6c" stroke-width="1.6" stroke-linejoin="round" stroke-dasharray="5.5 1.7" stroke-dashoffset="0"/><polyline points="54.77,996.26 70.44,996.64 86.12,996.80 101.79,996.87 117.46,996.90 133.13,996.91 148.81,996.92 164.48,996.92 180.15,996.92 195.82,996.92 211.50,996.91 227.17,996.91 242.84,996.91 258.52,996.91 274.19,996.90 289.86,996.90 305.53,996.90 321.20,996.89 336.88,996.89 352.55,996.88 368.22,996.88 383.89,996.87 399.57,996.87 415.24,996.85 430.91,996.81 446.59,996.77 462.26,996.72 477.93,996.65 493.60,996.57 509.28,996.42 524.95,996.22 540.62,995.95 556.29,995.34 571.97,993.59 587.64,990.56 603.31,985.49 618.98,977.70 634.66,964.37 650.33,945.05 666.00,920.50" fill="none" stroke="#98d2f0" stroke-width="1.6" stroke-linejoin="round" stroke-dasharray="5.5 1.7" stroke-dashoffset="0"/><polyline points="54.77,996.26 70.44,996.64 86.12,996.80 101.79,996.87 117.46,996.90 133.13,996.91 148.81,996.92 164.48,996.92 180.15,996.92 195.82,996.92 211.50,996.92 227.17,996.92 242.84,996.92 258.52,996.92 274.19,996.92 289.86,996.92 305.53,996.92 321.20,996.92 336.88,996.92 352.55,996.92 368.22,996.92 383.89,996.92 399.57,996.92 415.24,996.92 430.91,996.92 446.59,996.92 462.26,996.92 477.93,996.92 493.60,996.92 509.28,996.92 524.95,996.91 540.62,996.90 556.29,996.88 571.97,996.82 587.64,996.54 603.31,995.66 618.98,993.42 634.66,989.74 650.33,984.65 666.00,979.49" fill="none" stroke="#929292" stroke-width="1.6" stroke-linejoin="round" stroke-dasharray="5.5 1.7" stroke-dashoffset="0"/><line x1="39.10" y1="997.12" x2="666.00" y2="997.12" stroke="#3a3ab8" stroke-width="1.1" stroke-dasharray="2.2 1.2"/><text x="40.70" y="995.62" font-family='"Liberation Sans", sans-serif' font-size="5.0" font-weight="bold" fill="#3a3ad0">0.000</text><text x="45.00" y="798.50" font-family='"Liberation Serif", serif' font-size="24" fill="#000">D</text><text x="243.20" y="982.50" font-family='"Liberation Serif", serif' font-size="18.8" fill="#000">10</text><text x="261.30" y="976.60" font-family='"Liberation Serif", serif' font-size="14" fill="#000">8</text><text x="297.80" y="982.50" font-family='"Liberation Serif", serif' font-size="18.8" fill="#000">10</text><text x="315.90" y="976.60" font-family='"Liberation Serif", serif' font-size="14" fill="#000">7</text><text x="352.60" y="982.50" font-family='"Liberation Serif", serif' font-size="18.8" fill="#000">10</text><text x="370.70" y="976.60" font-family='"Liberation Serif", serif' font-size="14" fill="#000">6</text><text x="407.40" y="982.50" font-family='"Liberation Serif", serif' font-size="18.8" fill="#000">10</text><text x="425.50" y="976.60" font-family='"Liberation Serif", serif' font-size="14" fill="#000">5</text><text x="462.10" y="982.50" font-family='"Liberation Serif", serif' font-size="18.8" fill="#000">10</text><text x="480.20" y="976.60" font-family='"Liberation Serif", serif' font-size="14" fill="#000">4</text><text x="516.90" y="982.50" font-family='"Liberation Serif", serif' font-size="18.8" fill="#000">10</text><text x="535.00" y="976.60" font-family='"Liberation Serif", serif' font-size="14" fill="#000">3</text><text x="571.60" y="982.50" font-family='"Liberation Serif", serif' font-size="18.8" fill="#000">10</text><text x="589.70" y="976.60" font-family='"Liberation Serif", serif' font-size="14" fill="#000">2</text><text x="626.60" y="982.50" font-family='"Liberation Serif", serif' font-size="18.8" fill="#000">10</text><text x="644.70" y="976.60" font-family='"Liberation Serif", serif' font-size="14" fill="#000">1</text></g>
</svg></body></html>
